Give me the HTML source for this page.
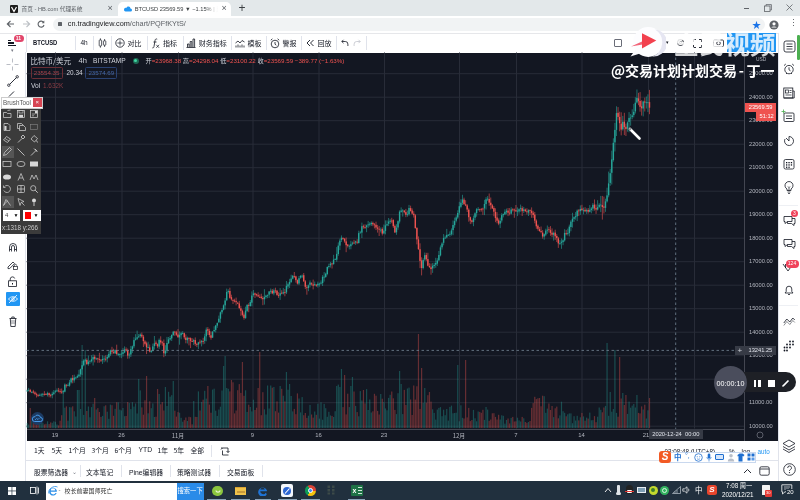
<!DOCTYPE html>
<html><head><meta charset="utf-8">
<style>
*{margin:0;padding:0;box-sizing:border-box}
html,body{width:800px;height:500px;overflow:hidden;background:#fff}
body{position:relative;font-family:"Liberation Sans","Noto Sans CJK SC",sans-serif;color:#131722}
.a{position:absolute;white-space:nowrap}
.cjk{font-family:"Noto Sans CJK SC","Liberation Sans",sans-serif}
</style></head><body>
<!-- tab strip -->
<div class="a" style="left:0;top:0;width:800px;height:16px;background:#e3e8ea"></div>
<svg class="a" style="left:9.5px;top:4.5px" width="8" height="8" viewBox="0 0 8 8"><rect width="8" height="8" rx="1" fill="#1d1d1d"/><path d="M1.5 2l2.5 4.5L6.5 2" fill="none" stroke="#fff" stroke-width="1.2"/></svg>
<div class="a" style="left:21.5px;top:4px;font-size:5.7px;color:#5f6368">首页 - HB.com 代理系统</div>
<div class="a" style="left:107.5px;top:3px;font-size:9px;color:#5f6368">×</div>
<div class="a" style="left:118px;top:2px;width:113px;height:15px;background:#fff;border-radius:5px 5px 0 0"></div>
<svg class="a" style="left:123.5px;top:4.5px" width="8" height="7" viewBox="0 0 8 7"><path d="M1.5 6.5h5a1.5 1.5 0 0 0 0-3 2.2 2.2 0 0 0-4.2-0.6A1.8 1.8 0 0 0 1.5 6.5z" fill="#2196f3"/></svg>
<div class="a" style="left:134.7px;top:4px;width:83px;overflow:hidden;font-size:5.7px;color:#3c4043;-webkit-mask-image:linear-gradient(90deg,#000 85%,transparent)">BTCUSD 23569.59 ▼ −1.15% | 比特币/美元</div>
<div class="a" style="left:221.5px;top:3px;font-size:9px;color:#5f6368">×</div>
<div class="a" style="left:238.5px;top:1px;font-size:12px;color:#3c4043">+</div>
<div class="a" style="left:743.5px;top:7.5px;width:5px;height:0.8px;background:#5f6368"></div>
<svg class="a" style="left:763.5px;top:3.5px" width="8" height="8" viewBox="0 0 8 8"><rect x="0.5" y="2" width="5.5" height="5.5" fill="none" stroke="#5f6368" stroke-width="0.8"/><path d="M2 2V0.6h5.4V6H6" fill="none" stroke="#5f6368" stroke-width="0.8"/></svg>
<svg class="a" style="left:785.5px;top:3.5px" width="7" height="7" viewBox="0 0 7 7"><path d="M0.5 0.5l6 6M6.5 0.5l-6 6" stroke="#5f6368" stroke-width="0.8"/></svg>
<!-- address bar -->
<div class="a" style="left:0;top:16px;width:800px;height:17px;background:#fff"></div>
<svg class="a" style="left:6px;top:20px" width="9" height="8" viewBox="0 0 9 8"><path d="M8 4H1.5M4.5 1L1.3 4l3.2 3" fill="none" stroke="#5f6368" stroke-width="1.1"/></svg>
<svg class="a" style="left:21.5px;top:20px" width="9" height="8" viewBox="0 0 9 8"><path d="M1 4h6.5M4.5 1l3.2 3-3.2 3" fill="none" stroke="#bdc1c6" stroke-width="1.1"/></svg>
<svg class="a" style="left:37px;top:20px" width="8" height="8" viewBox="0 0 8 8"><path d="M6.6 2.4A3 3 0 1 0 7 5" fill="none" stroke="#5f6368" stroke-width="1.1"/><path d="M7.3 0.6v2.6H4.7z" fill="#5f6368"/></svg>
<div class="a" style="left:52.5px;top:17.5px;width:712px;height:13.5px;background:#f1f3f4;border-radius:7px"></div>
<div class="a" style="left:58px;top:21.5px;width:4px;height:4.5px;background:#5f6368;border-radius:0.5px"></div>
<div class="a" style="left:67.8px;top:20px;font-size:7.3px;line-height:8.5px;color:#202124">cn.tradingview.com<span style="color:#5f6368">/chart/PQFfKYtS/</span></div>
<div class="a" style="left:752px;top:18px;font-size:9px;color:#1a73e8">★</div>
<svg class="a" style="left:769px;top:19.5px" width="10" height="10" viewBox="0 0 10 10"><circle cx="5" cy="5" r="4.6" fill="#5f6368"/><circle cx="5" cy="3.8" r="1.6" fill="#fff"/><path d="M2.2 7.6a3.4 2.6 0 0 1 5.6 0" fill="#fff"/></svg>
<div class="a" style="left:789px;top:18px;font-size:9px;color:#5f6368">⋮</div>

<!-- TV toolbar -->
<div class="a" style="left:0;top:33px;width:778px;height:19.5px;background:#fff"></div>
<div class="a" style="left:0;top:33px;width:778px;height:1px;background:#e6e7ea"></div>
<div class="a" style="left:8.3px;top:39.5px;width:3.2px;height:1.2px;background:#131722"></div>
<div class="a" style="left:8.3px;top:42.4px;width:6.2px;height:1.2px;background:#131722"></div>
<div class="a" style="left:8.3px;top:45.2px;width:8px;height:1.2px;background:#131722"></div>
<div class="a" style="left:10.5px;top:46.5px;font-size:5px;color:#787b86">▾</div>
<div class="a" style="left:13.5px;top:35px;width:10px;height:6.5px;border-radius:3.5px;background:#e2456a;color:#fff;font-size:5px;line-height:6.5px;text-align:center;font-weight:bold">11</div>
<div class="a" style="left:25.5px;top:34px;width:1px;height:18px;background:#e0e3eb"></div>
<div class="a" style="left:32.5px;top:37.5px;font-size:7.3px;line-height:9px;font-weight:bold;color:#131722;transform:scaleX(0.8);transform-origin:0 0">BTCUSD</div>
<div class="a" style="left:75px;top:36px;width:1px;height:14px;background:#e0e3eb"></div>
<div class="a" style="left:80.5px;top:39px;font-size:6.5px;color:#131722">4h</div>
<div class="a" style="left:93px;top:36px;width:1px;height:14px;background:#e0e3eb"></div>
<svg class="a" style="left:98px;top:38px" width="9" height="10" viewBox="0 0 9 10"><rect x="1.2" y="2" width="2.4" height="6" rx="0.6" fill="none" stroke="#131722" stroke-width="0.7"/><path d="M2.4 0.3V2M2.4 8v1.7" stroke="#131722" stroke-width="0.7"/><rect x="5.4" y="2.8" width="2.4" height="4.4" rx="0.6" fill="none" stroke="#131722" stroke-width="0.7"/><path d="M6.6 1v1.8M6.6 7.2V9" stroke="#131722" stroke-width="0.7"/></svg>
<div class="a" style="left:111px;top:36px;width:1px;height:14px;background:#e0e3eb"></div>
<svg class="a" style="left:115px;top:38px" width="10" height="10" viewBox="0 0 10 10"><circle cx="5" cy="5" r="4.2" fill="none" stroke="#131722" stroke-width="0.8"/><path d="M5 2.4v5.2M2.4 5h5.2" stroke="#131722" stroke-width="0.7"/></svg>
<div class="a cjk" style="left:127.5px;top:38px;font-size:7px;color:#131722">对比</div>
<div class="a" style="left:147px;top:36px;width:1px;height:14px;background:#e0e3eb"></div>
<svg class="a" style="left:151.5px;top:37.5px" width="8" height="11" viewBox="0 0 8 11"><path d="M5.2 1.2C4 0.6 3.2 1.2 3 2.5L2 8.5C1.8 9.8 1 10.2 0.3 9.8M1.5 4h3" fill="none" stroke="#131722" stroke-width="0.8"/><path d="M4.3 6.8l2.8 3M7.1 6.8l-2.8 3" stroke="#131722" stroke-width="0.7"/></svg>
<div class="a cjk" style="left:163px;top:38px;font-size:7px;color:#131722">指标</div>
<div class="a" style="left:182.5px;top:36px;width:1px;height:14px;background:#e0e3eb"></div>
<svg class="a" style="left:186px;top:38px" width="10" height="10" viewBox="0 0 10 10"><path d="M0.5 9.5h9M1.5 9V6h1.6v3M4.2 9V3.5h1.6V9M7 9V1h1.6v8" fill="none" stroke="#131722" stroke-width="0.8"/></svg>
<div class="a cjk" style="left:198.7px;top:38px;font-size:7px;color:#131722">财务指标</div>
<div class="a" style="left:230.6px;top:36px;width:1px;height:14px;background:#e0e3eb"></div>
<svg class="a" style="left:235px;top:38px" width="10" height="10" viewBox="0 0 10 10"><path d="M0.5 5l2.5-2 2 2 2-2.5 2.5 1.5" fill="none" stroke="#131722" stroke-width="0.8"/><path d="M1 9.5v-2M3 9.5v-3M5 9.5v-2M7 9.5v-3M9 9.5v-2" stroke="#131722" stroke-width="0.8"/></svg>
<div class="a cjk" style="left:247.5px;top:38px;font-size:7px;color:#131722">模板</div>
<div class="a" style="left:266px;top:36px;width:1px;height:14px;background:#e0e3eb"></div>
<svg class="a" style="left:270px;top:37.5px" width="10" height="11" viewBox="0 0 10 11"><circle cx="5" cy="6" r="3.8" fill="none" stroke="#131722" stroke-width="0.8"/><path d="M5 4v2.2l1.3 1M0.8 2.2l1.6-1.4M9.2 2.2l-1.6-1.4" fill="none" stroke="#131722" stroke-width="0.8"/></svg>
<div class="a cjk" style="left:282.5px;top:38px;font-size:7px;color:#131722">警报</div>
<div class="a" style="left:300.6px;top:36px;width:1px;height:14px;background:#e0e3eb"></div>
<svg class="a" style="left:305.5px;top:39px" width="8" height="8" viewBox="0 0 8 8"><path d="M4 1L1 4l3 3M7.5 1L4.5 4l3 3" fill="none" stroke="#131722" stroke-width="0.9"/></svg>
<div class="a cjk" style="left:317.5px;top:38px;font-size:7px;color:#131722">回放</div>
<div class="a" style="left:335.6px;top:36px;width:1px;height:14px;background:#e0e3eb"></div>
<svg class="a" style="left:341px;top:39px" width="8" height="8" viewBox="0 0 8 8"><path d="M2.5 0.8L0.8 2.5l1.7 1.7M0.8 2.5h3.5a2.6 2.6 0 0 1 2.6 2.6V7" fill="none" stroke="#131722" stroke-width="0.8"/></svg>
<svg class="a" style="left:353px;top:39px" width="8" height="8" viewBox="0 0 8 8"><path d="M5.5 0.8l1.7 1.7-1.7 1.7M7.2 2.5H3.7a2.6 2.6 0 0 0-2.6 2.6V7" fill="none" stroke="#c1c4cd" stroke-width="0.8"/></svg>
<div class="a" style="left:366px;top:36px;width:1px;height:14px;background:#e0e3eb"></div>
<div class="a" style="left:613.8px;top:38.8px;width:8.7px;height:8.7px;border:0.8px solid #6a6d78;border-radius:1px"></div>
<div class="a" style="left:665.5px;top:38.5px;font-size:5px;color:#131722">▾</div>
<svg class="a" style="left:675.5px;top:38px" width="9" height="9" viewBox="0 0 9 9"><circle cx="4.5" cy="4.5" r="3" fill="none" stroke="#131722" stroke-width="0.9"/><circle cx="4.5" cy="4.5" r="1.1" fill="none" stroke="#131722" stroke-width="0.8"/></svg>
<svg class="a" style="left:693px;top:38.5px" width="9" height="9" viewBox="0 0 9 9"><path d="M0.5 3V0.5H3M6 0.5h2.5V3M8.5 6v2.5H6M3 8.5H0.5V6" fill="none" stroke="#131722" stroke-width="0.9"/></svg>
<svg class="a" style="left:713px;top:38px" width="11" height="9" viewBox="0 0 11 9"><rect x="0.5" y="2" width="10" height="6.5" rx="1" fill="none" stroke="#131722" stroke-width="0.8"/><circle cx="5.5" cy="5.2" r="1.8" fill="none" stroke="#131722" stroke-width="0.8"/></svg>
<div class="a" style="left:727px;top:33.3px;width:49px;height:19.2px;background:#2196f3"></div>

<!-- left toolbar -->
<div class="a" style="left:0;top:52px;width:26px;height:429px;background:#fff;border-right:1px solid #e0e3eb"></div>
<!-- chart -->
<div class="a" style="left:26.5px;top:52.5px;width:751.5px;height:388.5px;background:#131722"></div>
<svg class="a" style="left:0;top:0" width="800" height="500" viewBox="0 0 800 500">
<line x1="26.5" y1="426.2" x2="744.5" y2="426.2" stroke="#282c38" stroke-width="1"/>
<line x1="26.5" y1="402.7" x2="744.5" y2="402.7" stroke="#282c38" stroke-width="1"/>
<line x1="26.5" y1="379.2" x2="744.5" y2="379.2" stroke="#282c38" stroke-width="1"/>
<line x1="26.5" y1="355.7" x2="744.5" y2="355.7" stroke="#282c38" stroke-width="1"/>
<line x1="26.5" y1="332.2" x2="744.5" y2="332.2" stroke="#282c38" stroke-width="1"/>
<line x1="26.5" y1="308.7" x2="744.5" y2="308.7" stroke="#282c38" stroke-width="1"/>
<line x1="26.5" y1="285.2" x2="744.5" y2="285.2" stroke="#282c38" stroke-width="1"/>
<line x1="26.5" y1="261.7" x2="744.5" y2="261.7" stroke="#282c38" stroke-width="1"/>
<line x1="26.5" y1="238.2" x2="744.5" y2="238.2" stroke="#282c38" stroke-width="1"/>
<line x1="26.5" y1="214.7" x2="744.5" y2="214.7" stroke="#282c38" stroke-width="1"/>
<line x1="26.5" y1="191.2" x2="744.5" y2="191.2" stroke="#282c38" stroke-width="1"/>
<line x1="26.5" y1="167.7" x2="744.5" y2="167.7" stroke="#282c38" stroke-width="1"/>
<line x1="26.5" y1="144.2" x2="744.5" y2="144.2" stroke="#282c38" stroke-width="1"/>
<line x1="26.5" y1="120.7" x2="744.5" y2="120.7" stroke="#282c38" stroke-width="1"/>
<line x1="26.5" y1="97.2" x2="744.5" y2="97.2" stroke="#282c38" stroke-width="1"/>
<line x1="26.5" y1="73.7" x2="744.5" y2="73.7" stroke="#282c38" stroke-width="1"/>
<line x1="55.5" y1="52.5" x2="55.5" y2="428.5" stroke="#282c38" stroke-width="1"/>
<line x1="122.0" y1="52.5" x2="122.0" y2="428.5" stroke="#282c38" stroke-width="1"/>
<line x1="178.5" y1="52.5" x2="178.5" y2="428.5" stroke="#282c38" stroke-width="1"/>
<line x1="253.0" y1="52.5" x2="253.0" y2="428.5" stroke="#282c38" stroke-width="1"/>
<line x1="319.0" y1="52.5" x2="319.0" y2="428.5" stroke="#282c38" stroke-width="1"/>
<line x1="384.5" y1="52.5" x2="384.5" y2="428.5" stroke="#282c38" stroke-width="1"/>
<line x1="459.5" y1="52.5" x2="459.5" y2="428.5" stroke="#282c38" stroke-width="1"/>
<line x1="516.5" y1="52.5" x2="516.5" y2="428.5" stroke="#282c38" stroke-width="1"/>
<line x1="582.0" y1="52.5" x2="582.0" y2="428.5" stroke="#282c38" stroke-width="1"/>
<line x1="648.5" y1="52.5" x2="648.5" y2="428.5" stroke="#282c38" stroke-width="1"/>
<line x1="694.5" y1="52.5" x2="694.5" y2="428.5" stroke="#282c38" stroke-width="1"/>
<rect x="26.51" y="423.0" width="1.2" height="5.0" fill="rgba(38,166,154,0.38)"/>
<rect x="28.08" y="424.5" width="1.2" height="3.5" fill="rgba(38,166,154,0.38)"/>
<rect x="29.65" y="408.0" width="1.2" height="20.0" fill="rgba(239,83,80,0.38)"/>
<rect x="31.22" y="420.9" width="1.2" height="7.1" fill="rgba(38,166,154,0.38)"/>
<rect x="32.79" y="422.3" width="1.2" height="5.7" fill="rgba(239,83,80,0.38)"/>
<rect x="34.37" y="421.7" width="1.2" height="6.3" fill="rgba(239,83,80,0.38)"/>
<rect x="35.94" y="424.3" width="1.2" height="3.7" fill="rgba(239,83,80,0.38)"/>
<rect x="37.51" y="422.8" width="1.2" height="5.2" fill="rgba(239,83,80,0.38)"/>
<rect x="39.08" y="420.9" width="1.2" height="7.1" fill="rgba(38,166,154,0.38)"/>
<rect x="40.65" y="421.6" width="1.2" height="6.4" fill="rgba(38,166,154,0.38)"/>
<rect x="42.22" y="422.8" width="1.2" height="5.2" fill="rgba(38,166,154,0.38)"/>
<rect x="43.80" y="424.4" width="1.2" height="3.6" fill="rgba(239,83,80,0.38)"/>
<rect x="45.37" y="423.8" width="1.2" height="4.2" fill="rgba(239,83,80,0.38)"/>
<rect x="46.94" y="421.3" width="1.2" height="6.7" fill="rgba(38,166,154,0.38)"/>
<rect x="48.51" y="424.0" width="1.2" height="4.0" fill="rgba(239,83,80,0.38)"/>
<rect x="50.08" y="422.4" width="1.2" height="5.6" fill="rgba(239,83,80,0.38)"/>
<rect x="51.65" y="422.8" width="1.2" height="5.2" fill="rgba(38,166,154,0.38)"/>
<rect x="53.23" y="421.3" width="1.2" height="6.7" fill="rgba(38,166,154,0.38)"/>
<rect x="54.80" y="421.8" width="1.2" height="6.2" fill="rgba(38,166,154,0.38)"/>
<rect x="56.37" y="424.5" width="1.2" height="3.5" fill="rgba(38,166,154,0.38)"/>
<rect x="57.94" y="425.4" width="1.2" height="2.6" fill="rgba(239,83,80,0.38)"/>
<rect x="59.51" y="420.7" width="1.2" height="7.3" fill="rgba(239,83,80,0.38)"/>
<rect x="61.08" y="415.2" width="1.2" height="12.8" fill="rgba(239,83,80,0.38)"/>
<rect x="62.66" y="390.0" width="1.2" height="38.0" fill="rgba(38,166,154,0.38)"/>
<rect x="64.23" y="407.7" width="1.2" height="20.3" fill="rgba(38,166,154,0.38)"/>
<rect x="65.80" y="406.4" width="1.2" height="21.6" fill="rgba(239,83,80,0.38)"/>
<rect x="67.37" y="420.7" width="1.2" height="7.3" fill="rgba(38,166,154,0.38)"/>
<rect x="68.94" y="407.1" width="1.2" height="20.9" fill="rgba(38,166,154,0.38)"/>
<rect x="70.51" y="407.4" width="1.2" height="20.6" fill="rgba(38,166,154,0.38)"/>
<rect x="72.09" y="406.3" width="1.2" height="21.7" fill="rgba(239,83,80,0.38)"/>
<rect x="73.66" y="411.3" width="1.2" height="16.7" fill="rgba(38,166,154,0.38)"/>
<rect x="75.23" y="416.5" width="1.2" height="11.5" fill="rgba(38,166,154,0.38)"/>
<rect x="76.80" y="390.0" width="1.2" height="38.0" fill="rgba(38,166,154,0.38)"/>
<rect x="78.37" y="390.0" width="1.2" height="38.0" fill="rgba(38,166,154,0.38)"/>
<rect x="79.94" y="409.0" width="1.2" height="19.0" fill="rgba(38,166,154,0.38)"/>
<rect x="81.52" y="345.0" width="1.2" height="83.0" fill="rgba(38,166,154,0.38)"/>
<rect x="83.09" y="414.9" width="1.2" height="13.1" fill="rgba(38,166,154,0.38)"/>
<rect x="84.66" y="350.0" width="1.2" height="78.0" fill="rgba(38,166,154,0.38)"/>
<rect x="86.23" y="411.0" width="1.2" height="17.0" fill="rgba(239,83,80,0.38)"/>
<rect x="87.80" y="406.5" width="1.2" height="21.5" fill="rgba(38,166,154,0.38)"/>
<rect x="89.37" y="417.3" width="1.2" height="10.7" fill="rgba(38,166,154,0.38)"/>
<rect x="90.95" y="407.1" width="1.2" height="20.9" fill="rgba(38,166,154,0.38)"/>
<rect x="92.52" y="403.7" width="1.2" height="24.3" fill="rgba(38,166,154,0.38)"/>
<rect x="94.09" y="398.0" width="1.2" height="30.0" fill="rgba(239,83,80,0.38)"/>
<rect x="95.66" y="409.5" width="1.2" height="18.5" fill="rgba(38,166,154,0.38)"/>
<rect x="97.23" y="408.1" width="1.2" height="19.9" fill="rgba(239,83,80,0.38)"/>
<rect x="98.80" y="412.0" width="1.2" height="16.0" fill="rgba(239,83,80,0.38)"/>
<rect x="100.38" y="416.9" width="1.2" height="11.1" fill="rgba(239,83,80,0.38)"/>
<rect x="101.95" y="415.9" width="1.2" height="12.1" fill="rgba(38,166,154,0.38)"/>
<rect x="103.52" y="406.3" width="1.2" height="21.7" fill="rgba(38,166,154,0.38)"/>
<rect x="105.09" y="405.3" width="1.2" height="22.7" fill="rgba(239,83,80,0.38)"/>
<rect x="106.66" y="411.7" width="1.2" height="16.3" fill="rgba(38,166,154,0.38)"/>
<rect x="108.24" y="418.8" width="1.2" height="9.2" fill="rgba(38,166,154,0.38)"/>
<rect x="109.81" y="404.6" width="1.2" height="23.4" fill="rgba(38,166,154,0.38)"/>
<rect x="111.38" y="405.2" width="1.2" height="22.8" fill="rgba(239,83,80,0.38)"/>
<rect x="112.95" y="415.8" width="1.2" height="12.2" fill="rgba(239,83,80,0.38)"/>
<rect x="114.52" y="408.8" width="1.2" height="19.2" fill="rgba(38,166,154,0.38)"/>
<rect x="116.09" y="402.2" width="1.2" height="25.8" fill="rgba(239,83,80,0.38)"/>
<rect x="117.67" y="402.3" width="1.2" height="25.7" fill="rgba(38,166,154,0.38)"/>
<rect x="119.24" y="409.6" width="1.2" height="18.4" fill="rgba(38,166,154,0.38)"/>
<rect x="120.81" y="410.4" width="1.2" height="17.6" fill="rgba(38,166,154,0.38)"/>
<rect x="122.38" y="408.0" width="1.2" height="20.0" fill="rgba(38,166,154,0.38)"/>
<rect x="123.95" y="416.2" width="1.2" height="11.8" fill="rgba(38,166,154,0.38)"/>
<rect x="125.52" y="416.0" width="1.2" height="12.0" fill="rgba(239,83,80,0.38)"/>
<rect x="127.10" y="402.0" width="1.2" height="26.0" fill="rgba(239,83,80,0.38)"/>
<rect x="128.67" y="403.1" width="1.2" height="24.9" fill="rgba(38,166,154,0.38)"/>
<rect x="130.24" y="409.1" width="1.2" height="18.9" fill="rgba(38,166,154,0.38)"/>
<rect x="131.81" y="402.2" width="1.2" height="25.8" fill="rgba(38,166,154,0.38)"/>
<rect x="133.38" y="406.6" width="1.2" height="21.4" fill="rgba(38,166,154,0.38)"/>
<rect x="134.95" y="403.5" width="1.2" height="24.5" fill="rgba(38,166,154,0.38)"/>
<rect x="136.53" y="413.5" width="1.2" height="14.5" fill="rgba(38,166,154,0.38)"/>
<rect x="138.10" y="379.0" width="1.2" height="49.0" fill="rgba(38,166,154,0.38)"/>
<rect x="139.67" y="390.4" width="1.2" height="37.6" fill="rgba(38,166,154,0.38)"/>
<rect x="141.24" y="407.4" width="1.2" height="20.6" fill="rgba(239,83,80,0.38)"/>
<rect x="142.81" y="414.7" width="1.2" height="13.3" fill="rgba(239,83,80,0.38)"/>
<rect x="144.38" y="400.3" width="1.2" height="27.7" fill="rgba(239,83,80,0.38)"/>
<rect x="145.96" y="376.0" width="1.2" height="52.0" fill="rgba(239,83,80,0.38)"/>
<rect x="147.53" y="413.3" width="1.2" height="14.7" fill="rgba(38,166,154,0.38)"/>
<rect x="149.10" y="401.3" width="1.2" height="26.7" fill="rgba(239,83,80,0.38)"/>
<rect x="150.67" y="408.2" width="1.2" height="19.8" fill="rgba(38,166,154,0.38)"/>
<rect x="152.24" y="403.4" width="1.2" height="24.6" fill="rgba(38,166,154,0.38)"/>
<rect x="153.81" y="417.0" width="1.2" height="11.0" fill="rgba(38,166,154,0.38)"/>
<rect x="155.39" y="416.7" width="1.2" height="11.3" fill="rgba(239,83,80,0.38)"/>
<rect x="156.96" y="389.0" width="1.2" height="39.0" fill="rgba(239,83,80,0.38)"/>
<rect x="158.53" y="394.0" width="1.2" height="34.0" fill="rgba(38,166,154,0.38)"/>
<rect x="160.10" y="404.3" width="1.2" height="23.7" fill="rgba(239,83,80,0.38)"/>
<rect x="161.67" y="402.1" width="1.2" height="25.9" fill="rgba(239,83,80,0.38)"/>
<rect x="163.24" y="410.5" width="1.2" height="17.5" fill="rgba(239,83,80,0.38)"/>
<rect x="164.82" y="387.0" width="1.2" height="41.0" fill="rgba(38,166,154,0.38)"/>
<rect x="166.39" y="406.0" width="1.2" height="22.0" fill="rgba(38,166,154,0.38)"/>
<rect x="167.96" y="391.8" width="1.2" height="36.2" fill="rgba(38,166,154,0.38)"/>
<rect x="169.53" y="396.7" width="1.2" height="31.3" fill="rgba(38,166,154,0.38)"/>
<rect x="171.10" y="395.2" width="1.2" height="32.8" fill="rgba(38,166,154,0.38)"/>
<rect x="172.67" y="381.0" width="1.2" height="47.0" fill="rgba(38,166,154,0.38)"/>
<rect x="174.25" y="410.7" width="1.2" height="17.3" fill="rgba(239,83,80,0.38)"/>
<rect x="175.82" y="416.6" width="1.2" height="11.4" fill="rgba(239,83,80,0.38)"/>
<rect x="177.39" y="412.1" width="1.2" height="15.9" fill="rgba(239,83,80,0.38)"/>
<rect x="178.96" y="412.7" width="1.2" height="15.3" fill="rgba(38,166,154,0.38)"/>
<rect x="180.53" y="417.8" width="1.2" height="10.2" fill="rgba(38,166,154,0.38)"/>
<rect x="182.11" y="421.7" width="1.2" height="6.3" fill="rgba(38,166,154,0.38)"/>
<rect x="183.68" y="420.1" width="1.2" height="7.9" fill="rgba(239,83,80,0.38)"/>
<rect x="185.25" y="417.5" width="1.2" height="10.5" fill="rgba(239,83,80,0.38)"/>
<rect x="186.82" y="421.0" width="1.2" height="7.0" fill="rgba(38,166,154,0.38)"/>
<rect x="188.39" y="416.8" width="1.2" height="11.2" fill="rgba(239,83,80,0.38)"/>
<rect x="189.96" y="417.2" width="1.2" height="10.8" fill="rgba(239,83,80,0.38)"/>
<rect x="191.54" y="424.3" width="1.2" height="3.7" fill="rgba(239,83,80,0.38)"/>
<rect x="193.11" y="401.0" width="1.2" height="27.0" fill="rgba(38,166,154,0.38)"/>
<rect x="194.68" y="416.8" width="1.2" height="11.2" fill="rgba(239,83,80,0.38)"/>
<rect x="196.25" y="417.0" width="1.2" height="11.0" fill="rgba(239,83,80,0.38)"/>
<rect x="197.82" y="391.4" width="1.2" height="36.6" fill="rgba(38,166,154,0.38)"/>
<rect x="199.39" y="410.5" width="1.2" height="17.5" fill="rgba(239,83,80,0.38)"/>
<rect x="200.97" y="401.9" width="1.2" height="26.1" fill="rgba(38,166,154,0.38)"/>
<rect x="202.54" y="399.7" width="1.2" height="28.3" fill="rgba(239,83,80,0.38)"/>
<rect x="204.11" y="390.8" width="1.2" height="37.2" fill="rgba(38,166,154,0.38)"/>
<rect x="205.68" y="398.6" width="1.2" height="29.4" fill="rgba(38,166,154,0.38)"/>
<rect x="207.25" y="386.0" width="1.2" height="42.0" fill="rgba(239,83,80,0.38)"/>
<rect x="208.82" y="404.6" width="1.2" height="23.4" fill="rgba(239,83,80,0.38)"/>
<rect x="210.40" y="412.7" width="1.2" height="15.3" fill="rgba(239,83,80,0.38)"/>
<rect x="211.97" y="389.6" width="1.2" height="38.4" fill="rgba(38,166,154,0.38)"/>
<rect x="213.54" y="388.7" width="1.2" height="39.3" fill="rgba(38,166,154,0.38)"/>
<rect x="215.11" y="410.7" width="1.2" height="17.3" fill="rgba(38,166,154,0.38)"/>
<rect x="216.68" y="415.9" width="1.2" height="12.1" fill="rgba(38,166,154,0.38)"/>
<rect x="218.25" y="409.5" width="1.2" height="18.5" fill="rgba(38,166,154,0.38)"/>
<rect x="219.83" y="406.7" width="1.2" height="21.3" fill="rgba(38,166,154,0.38)"/>
<rect x="221.40" y="390.5" width="1.2" height="37.5" fill="rgba(38,166,154,0.38)"/>
<rect x="222.97" y="366.0" width="1.2" height="62.0" fill="rgba(38,166,154,0.38)"/>
<rect x="224.54" y="356.0" width="1.2" height="72.0" fill="rgba(38,166,154,0.38)"/>
<rect x="226.11" y="388.0" width="1.2" height="40.0" fill="rgba(38,166,154,0.38)"/>
<rect x="227.68" y="388.8" width="1.2" height="39.2" fill="rgba(38,166,154,0.38)"/>
<rect x="229.26" y="391.4" width="1.2" height="36.6" fill="rgba(239,83,80,0.38)"/>
<rect x="230.83" y="380.0" width="1.2" height="48.0" fill="rgba(239,83,80,0.38)"/>
<rect x="232.40" y="382.3" width="1.2" height="45.7" fill="rgba(239,83,80,0.38)"/>
<rect x="233.97" y="413.4" width="1.2" height="14.6" fill="rgba(239,83,80,0.38)"/>
<rect x="235.54" y="410.5" width="1.2" height="17.5" fill="rgba(239,83,80,0.38)"/>
<rect x="237.11" y="390.2" width="1.2" height="37.8" fill="rgba(239,83,80,0.38)"/>
<rect x="238.69" y="384.1" width="1.2" height="43.9" fill="rgba(239,83,80,0.38)"/>
<rect x="240.26" y="392.9" width="1.2" height="35.1" fill="rgba(239,83,80,0.38)"/>
<rect x="241.83" y="362.0" width="1.2" height="66.0" fill="rgba(239,83,80,0.38)"/>
<rect x="243.40" y="395.8" width="1.2" height="32.2" fill="rgba(239,83,80,0.38)"/>
<rect x="244.97" y="390.3" width="1.2" height="37.7" fill="rgba(38,166,154,0.38)"/>
<rect x="246.54" y="411.9" width="1.2" height="16.1" fill="rgba(38,166,154,0.38)"/>
<rect x="248.12" y="404.7" width="1.2" height="23.3" fill="rgba(239,83,80,0.38)"/>
<rect x="249.69" y="407.0" width="1.2" height="21.0" fill="rgba(38,166,154,0.38)"/>
<rect x="251.26" y="411.4" width="1.2" height="16.6" fill="rgba(38,166,154,0.38)"/>
<rect x="252.83" y="399.7" width="1.2" height="28.3" fill="rgba(38,166,154,0.38)"/>
<rect x="254.40" y="410.0" width="1.2" height="18.0" fill="rgba(239,83,80,0.38)"/>
<rect x="255.97" y="407.7" width="1.2" height="20.3" fill="rgba(239,83,80,0.38)"/>
<rect x="257.55" y="388.0" width="1.2" height="40.0" fill="rgba(239,83,80,0.38)"/>
<rect x="259.12" y="352.0" width="1.2" height="76.0" fill="rgba(239,83,80,0.38)"/>
<rect x="260.69" y="415.2" width="1.2" height="12.8" fill="rgba(239,83,80,0.38)"/>
<rect x="262.26" y="392.2" width="1.2" height="35.8" fill="rgba(239,83,80,0.38)"/>
<rect x="263.83" y="409.3" width="1.2" height="18.7" fill="rgba(38,166,154,0.38)"/>
<rect x="265.41" y="414.5" width="1.2" height="13.5" fill="rgba(38,166,154,0.38)"/>
<rect x="266.98" y="385.5" width="1.2" height="42.5" fill="rgba(38,166,154,0.38)"/>
<rect x="268.55" y="408.5" width="1.2" height="19.5" fill="rgba(38,166,154,0.38)"/>
<rect x="270.12" y="385.5" width="1.2" height="42.5" fill="rgba(38,166,154,0.38)"/>
<rect x="271.69" y="387.7" width="1.2" height="40.3" fill="rgba(239,83,80,0.38)"/>
<rect x="273.26" y="387.0" width="1.2" height="41.0" fill="rgba(38,166,154,0.38)"/>
<rect x="274.84" y="411.2" width="1.2" height="16.8" fill="rgba(239,83,80,0.38)"/>
<rect x="276.41" y="401.4" width="1.2" height="26.6" fill="rgba(239,83,80,0.38)"/>
<rect x="277.98" y="412.6" width="1.2" height="15.4" fill="rgba(239,83,80,0.38)"/>
<rect x="279.55" y="386.0" width="1.2" height="42.0" fill="rgba(38,166,154,0.38)"/>
<rect x="281.12" y="388.8" width="1.2" height="39.2" fill="rgba(239,83,80,0.38)"/>
<rect x="282.69" y="395.7" width="1.2" height="32.3" fill="rgba(38,166,154,0.38)"/>
<rect x="284.27" y="401.4" width="1.2" height="26.6" fill="rgba(239,83,80,0.38)"/>
<rect x="285.84" y="372.0" width="1.2" height="56.0" fill="rgba(38,166,154,0.38)"/>
<rect x="287.41" y="389.7" width="1.2" height="38.3" fill="rgba(38,166,154,0.38)"/>
<rect x="288.98" y="384.0" width="1.2" height="44.0" fill="rgba(38,166,154,0.38)"/>
<rect x="290.55" y="396.0" width="1.2" height="32.0" fill="rgba(38,166,154,0.38)"/>
<rect x="292.12" y="411.4" width="1.2" height="16.6" fill="rgba(38,166,154,0.38)"/>
<rect x="293.70" y="408.9" width="1.2" height="19.1" fill="rgba(239,83,80,0.38)"/>
<rect x="295.27" y="414.2" width="1.2" height="13.8" fill="rgba(239,83,80,0.38)"/>
<rect x="296.84" y="393.4" width="1.2" height="34.6" fill="rgba(239,83,80,0.38)"/>
<rect x="298.41" y="398.5" width="1.2" height="29.5" fill="rgba(38,166,154,0.38)"/>
<rect x="299.98" y="412.4" width="1.2" height="15.6" fill="rgba(38,166,154,0.38)"/>
<rect x="301.55" y="397.1" width="1.2" height="30.9" fill="rgba(38,166,154,0.38)"/>
<rect x="303.13" y="415.2" width="1.2" height="12.8" fill="rgba(239,83,80,0.38)"/>
<rect x="304.70" y="413.0" width="1.2" height="15.0" fill="rgba(239,83,80,0.38)"/>
<rect x="306.27" y="417.9" width="1.2" height="10.1" fill="rgba(239,83,80,0.38)"/>
<rect x="307.84" y="415.7" width="1.2" height="12.3" fill="rgba(38,166,154,0.38)"/>
<rect x="309.41" y="404.9" width="1.2" height="23.1" fill="rgba(38,166,154,0.38)"/>
<rect x="310.98" y="414.5" width="1.2" height="13.5" fill="rgba(239,83,80,0.38)"/>
<rect x="312.56" y="417.6" width="1.2" height="10.4" fill="rgba(239,83,80,0.38)"/>
<rect x="314.13" y="411.5" width="1.2" height="16.5" fill="rgba(38,166,154,0.38)"/>
<rect x="315.70" y="414.8" width="1.2" height="13.2" fill="rgba(239,83,80,0.38)"/>
<rect x="317.27" y="403.7" width="1.2" height="24.3" fill="rgba(38,166,154,0.38)"/>
<rect x="318.84" y="418.6" width="1.2" height="9.4" fill="rgba(38,166,154,0.38)"/>
<rect x="320.41" y="402.3" width="1.2" height="25.7" fill="rgba(38,166,154,0.38)"/>
<rect x="321.99" y="419.7" width="1.2" height="8.3" fill="rgba(38,166,154,0.38)"/>
<rect x="323.56" y="403.9" width="1.2" height="24.1" fill="rgba(38,166,154,0.38)"/>
<rect x="325.13" y="408.2" width="1.2" height="19.8" fill="rgba(38,166,154,0.38)"/>
<rect x="326.70" y="416.8" width="1.2" height="11.2" fill="rgba(38,166,154,0.38)"/>
<rect x="328.27" y="411.8" width="1.2" height="16.2" fill="rgba(38,166,154,0.38)"/>
<rect x="329.84" y="415.4" width="1.2" height="12.6" fill="rgba(38,166,154,0.38)"/>
<rect x="331.42" y="415.9" width="1.2" height="12.1" fill="rgba(239,83,80,0.38)"/>
<rect x="332.99" y="417.0" width="1.2" height="11.0" fill="rgba(38,166,154,0.38)"/>
<rect x="334.56" y="411.2" width="1.2" height="16.8" fill="rgba(38,166,154,0.38)"/>
<rect x="336.13" y="386.0" width="1.2" height="42.0" fill="rgba(38,166,154,0.38)"/>
<rect x="337.70" y="384.6" width="1.2" height="43.4" fill="rgba(38,166,154,0.38)"/>
<rect x="339.28" y="387.0" width="1.2" height="41.0" fill="rgba(38,166,154,0.38)"/>
<rect x="340.85" y="369.0" width="1.2" height="59.0" fill="rgba(38,166,154,0.38)"/>
<rect x="342.42" y="407.1" width="1.2" height="20.9" fill="rgba(239,83,80,0.38)"/>
<rect x="343.99" y="375.0" width="1.2" height="53.0" fill="rgba(239,83,80,0.38)"/>
<rect x="345.56" y="414.4" width="1.2" height="13.6" fill="rgba(239,83,80,0.38)"/>
<rect x="347.13" y="393.7" width="1.2" height="34.3" fill="rgba(239,83,80,0.38)"/>
<rect x="348.71" y="407.1" width="1.2" height="20.9" fill="rgba(38,166,154,0.38)"/>
<rect x="350.28" y="386.0" width="1.2" height="42.0" fill="rgba(38,166,154,0.38)"/>
<rect x="351.85" y="377.0" width="1.2" height="51.0" fill="rgba(38,166,154,0.38)"/>
<rect x="353.42" y="391.5" width="1.2" height="36.5" fill="rgba(239,83,80,0.38)"/>
<rect x="354.99" y="405.9" width="1.2" height="22.1" fill="rgba(38,166,154,0.38)"/>
<rect x="356.56" y="412.1" width="1.2" height="15.9" fill="rgba(239,83,80,0.38)"/>
<rect x="358.14" y="416.3" width="1.2" height="11.7" fill="rgba(38,166,154,0.38)"/>
<rect x="359.71" y="391.1" width="1.2" height="36.9" fill="rgba(38,166,154,0.38)"/>
<rect x="361.28" y="400.5" width="1.2" height="27.5" fill="rgba(38,166,154,0.38)"/>
<rect x="362.85" y="390.0" width="1.2" height="38.0" fill="rgba(239,83,80,0.38)"/>
<rect x="364.42" y="403.4" width="1.2" height="24.6" fill="rgba(239,83,80,0.38)"/>
<rect x="365.99" y="389.1" width="1.2" height="38.9" fill="rgba(38,166,154,0.38)"/>
<rect x="367.57" y="410.0" width="1.2" height="18.0" fill="rgba(38,166,154,0.38)"/>
<rect x="369.14" y="399.5" width="1.2" height="28.5" fill="rgba(38,166,154,0.38)"/>
<rect x="370.71" y="412.5" width="1.2" height="15.5" fill="rgba(38,166,154,0.38)"/>
<rect x="372.28" y="411.3" width="1.2" height="16.7" fill="rgba(239,83,80,0.38)"/>
<rect x="373.85" y="393.8" width="1.2" height="34.2" fill="rgba(239,83,80,0.38)"/>
<rect x="375.42" y="395.7" width="1.2" height="32.3" fill="rgba(239,83,80,0.38)"/>
<rect x="377.00" y="410.9" width="1.2" height="17.1" fill="rgba(239,83,80,0.38)"/>
<rect x="378.57" y="414.5" width="1.2" height="13.5" fill="rgba(239,83,80,0.38)"/>
<rect x="380.14" y="394.0" width="1.2" height="34.0" fill="rgba(38,166,154,0.38)"/>
<rect x="381.71" y="398.7" width="1.2" height="29.3" fill="rgba(239,83,80,0.38)"/>
<rect x="383.28" y="401.9" width="1.2" height="26.1" fill="rgba(38,166,154,0.38)"/>
<rect x="384.85" y="408.4" width="1.2" height="19.6" fill="rgba(38,166,154,0.38)"/>
<rect x="386.43" y="410.3" width="1.2" height="17.7" fill="rgba(38,166,154,0.38)"/>
<rect x="388.00" y="397.9" width="1.2" height="30.1" fill="rgba(38,166,154,0.38)"/>
<rect x="389.57" y="394.8" width="1.2" height="33.2" fill="rgba(38,166,154,0.38)"/>
<rect x="391.14" y="391.5" width="1.2" height="36.5" fill="rgba(239,83,80,0.38)"/>
<rect x="392.71" y="398.3" width="1.2" height="29.7" fill="rgba(239,83,80,0.38)"/>
<rect x="394.28" y="409.9" width="1.2" height="18.1" fill="rgba(239,83,80,0.38)"/>
<rect x="395.86" y="414.1" width="1.2" height="13.9" fill="rgba(38,166,154,0.38)"/>
<rect x="397.43" y="393.2" width="1.2" height="34.8" fill="rgba(38,166,154,0.38)"/>
<rect x="399.00" y="371.0" width="1.2" height="57.0" fill="rgba(38,166,154,0.38)"/>
<rect x="400.57" y="384.0" width="1.2" height="44.0" fill="rgba(38,166,154,0.38)"/>
<rect x="402.14" y="414.1" width="1.2" height="13.9" fill="rgba(38,166,154,0.38)"/>
<rect x="403.71" y="389.9" width="1.2" height="38.1" fill="rgba(239,83,80,0.38)"/>
<rect x="405.29" y="405.0" width="1.2" height="23.0" fill="rgba(239,83,80,0.38)"/>
<rect x="406.86" y="388.5" width="1.2" height="39.5" fill="rgba(38,166,154,0.38)"/>
<rect x="408.43" y="387.6" width="1.2" height="40.4" fill="rgba(38,166,154,0.38)"/>
<rect x="410.00" y="399.5" width="1.2" height="28.5" fill="rgba(239,83,80,0.38)"/>
<rect x="411.57" y="415.0" width="1.2" height="13.0" fill="rgba(239,83,80,0.38)"/>
<rect x="413.14" y="385.5" width="1.2" height="42.5" fill="rgba(239,83,80,0.38)"/>
<rect x="414.72" y="399.6" width="1.2" height="28.4" fill="rgba(239,83,80,0.38)"/>
<rect x="416.29" y="386.3" width="1.2" height="41.7" fill="rgba(239,83,80,0.38)"/>
<rect x="417.86" y="334.0" width="1.2" height="94.0" fill="rgba(239,83,80,0.38)"/>
<rect x="419.43" y="408.9" width="1.2" height="19.1" fill="rgba(239,83,80,0.38)"/>
<rect x="421.00" y="368.0" width="1.2" height="60.0" fill="rgba(239,83,80,0.38)"/>
<rect x="422.58" y="402.9" width="1.2" height="25.1" fill="rgba(38,166,154,0.38)"/>
<rect x="424.15" y="388.0" width="1.2" height="40.0" fill="rgba(38,166,154,0.38)"/>
<rect x="425.72" y="402.7" width="1.2" height="25.3" fill="rgba(239,83,80,0.38)"/>
<rect x="427.29" y="395.2" width="1.2" height="32.8" fill="rgba(239,83,80,0.38)"/>
<rect x="428.86" y="392.0" width="1.2" height="36.0" fill="rgba(239,83,80,0.38)"/>
<rect x="430.43" y="401.6" width="1.2" height="26.4" fill="rgba(239,83,80,0.38)"/>
<rect x="432.01" y="409.3" width="1.2" height="18.7" fill="rgba(38,166,154,0.38)"/>
<rect x="433.58" y="412.9" width="1.2" height="15.1" fill="rgba(38,166,154,0.38)"/>
<rect x="435.15" y="419.6" width="1.2" height="8.4" fill="rgba(38,166,154,0.38)"/>
<rect x="436.72" y="409.6" width="1.2" height="18.4" fill="rgba(38,166,154,0.38)"/>
<rect x="438.29" y="407.9" width="1.2" height="20.1" fill="rgba(38,166,154,0.38)"/>
<rect x="439.86" y="407.1" width="1.2" height="20.9" fill="rgba(38,166,154,0.38)"/>
<rect x="441.44" y="416.2" width="1.2" height="11.8" fill="rgba(38,166,154,0.38)"/>
<rect x="443.01" y="409.7" width="1.2" height="18.3" fill="rgba(38,166,154,0.38)"/>
<rect x="444.58" y="415.2" width="1.2" height="12.8" fill="rgba(38,166,154,0.38)"/>
<rect x="446.15" y="409.0" width="1.2" height="19.0" fill="rgba(38,166,154,0.38)"/>
<rect x="447.72" y="420.6" width="1.2" height="7.4" fill="rgba(38,166,154,0.38)"/>
<rect x="449.29" y="406.9" width="1.2" height="21.1" fill="rgba(38,166,154,0.38)"/>
<rect x="450.87" y="405.6" width="1.2" height="22.4" fill="rgba(38,166,154,0.38)"/>
<rect x="452.44" y="413.3" width="1.2" height="14.7" fill="rgba(38,166,154,0.38)"/>
<rect x="454.01" y="413.0" width="1.2" height="15.0" fill="rgba(38,166,154,0.38)"/>
<rect x="455.58" y="412.7" width="1.2" height="15.3" fill="rgba(38,166,154,0.38)"/>
<rect x="457.15" y="365.0" width="1.2" height="63.0" fill="rgba(38,166,154,0.38)"/>
<rect x="458.72" y="421.3" width="1.2" height="6.7" fill="rgba(38,166,154,0.38)"/>
<rect x="460.30" y="405.3" width="1.2" height="22.7" fill="rgba(38,166,154,0.38)"/>
<rect x="461.87" y="417.8" width="1.2" height="10.2" fill="rgba(38,166,154,0.38)"/>
<rect x="463.44" y="418.5" width="1.2" height="9.5" fill="rgba(239,83,80,0.38)"/>
<rect x="465.01" y="360.0" width="1.2" height="68.0" fill="rgba(239,83,80,0.38)"/>
<rect x="466.58" y="417.4" width="1.2" height="10.6" fill="rgba(239,83,80,0.38)"/>
<rect x="468.15" y="407.9" width="1.2" height="20.1" fill="rgba(239,83,80,0.38)"/>
<rect x="469.73" y="421.1" width="1.2" height="6.9" fill="rgba(239,83,80,0.38)"/>
<rect x="471.30" y="420.0" width="1.2" height="8.0" fill="rgba(239,83,80,0.38)"/>
<rect x="472.87" y="409.9" width="1.2" height="18.1" fill="rgba(38,166,154,0.38)"/>
<rect x="474.44" y="418.3" width="1.2" height="9.7" fill="rgba(38,166,154,0.38)"/>
<rect x="476.01" y="421.3" width="1.2" height="6.7" fill="rgba(38,166,154,0.38)"/>
<rect x="477.58" y="411.5" width="1.2" height="16.5" fill="rgba(38,166,154,0.38)"/>
<rect x="479.16" y="411.9" width="1.2" height="16.1" fill="rgba(239,83,80,0.38)"/>
<rect x="480.73" y="412.8" width="1.2" height="15.2" fill="rgba(239,83,80,0.38)"/>
<rect x="482.30" y="409.8" width="1.2" height="18.2" fill="rgba(239,83,80,0.38)"/>
<rect x="483.87" y="419.9" width="1.2" height="8.1" fill="rgba(38,166,154,0.38)"/>
<rect x="485.44" y="407.0" width="1.2" height="21.0" fill="rgba(38,166,154,0.38)"/>
<rect x="487.01" y="409.6" width="1.2" height="18.4" fill="rgba(38,166,154,0.38)"/>
<rect x="488.59" y="420.8" width="1.2" height="7.2" fill="rgba(239,83,80,0.38)"/>
<rect x="490.16" y="419.5" width="1.2" height="8.5" fill="rgba(239,83,80,0.38)"/>
<rect x="491.73" y="413.3" width="1.2" height="14.7" fill="rgba(239,83,80,0.38)"/>
<rect x="493.30" y="413.2" width="1.2" height="14.8" fill="rgba(239,83,80,0.38)"/>
<rect x="494.87" y="416.9" width="1.2" height="11.1" fill="rgba(239,83,80,0.38)"/>
<rect x="496.45" y="419.5" width="1.2" height="8.5" fill="rgba(239,83,80,0.38)"/>
<rect x="498.02" y="414.8" width="1.2" height="13.2" fill="rgba(239,83,80,0.38)"/>
<rect x="499.59" y="419.5" width="1.2" height="8.5" fill="rgba(38,166,154,0.38)"/>
<rect x="501.16" y="415.3" width="1.2" height="12.7" fill="rgba(38,166,154,0.38)"/>
<rect x="502.73" y="415.8" width="1.2" height="12.2" fill="rgba(38,166,154,0.38)"/>
<rect x="504.30" y="423.6" width="1.2" height="4.4" fill="rgba(38,166,154,0.38)"/>
<rect x="505.88" y="420.0" width="1.2" height="8.0" fill="rgba(38,166,154,0.38)"/>
<rect x="507.45" y="418.5" width="1.2" height="9.5" fill="rgba(239,83,80,0.38)"/>
<rect x="509.02" y="423.4" width="1.2" height="4.6" fill="rgba(239,83,80,0.38)"/>
<rect x="510.59" y="417.9" width="1.2" height="10.1" fill="rgba(38,166,154,0.38)"/>
<rect x="512.16" y="416.9" width="1.2" height="11.1" fill="rgba(239,83,80,0.38)"/>
<rect x="513.73" y="421.5" width="1.2" height="6.5" fill="rgba(239,83,80,0.38)"/>
<rect x="515.31" y="421.3" width="1.2" height="6.7" fill="rgba(239,83,80,0.38)"/>
<rect x="516.88" y="417.7" width="1.2" height="10.3" fill="rgba(38,166,154,0.38)"/>
<rect x="518.45" y="420.4" width="1.2" height="7.6" fill="rgba(38,166,154,0.38)"/>
<rect x="520.02" y="421.5" width="1.2" height="6.5" fill="rgba(38,166,154,0.38)"/>
<rect x="521.59" y="416.9" width="1.2" height="11.1" fill="rgba(239,83,80,0.38)"/>
<rect x="523.16" y="418.3" width="1.2" height="9.7" fill="rgba(38,166,154,0.38)"/>
<rect x="524.74" y="422.0" width="1.2" height="6.0" fill="rgba(239,83,80,0.38)"/>
<rect x="526.31" y="422.8" width="1.2" height="5.2" fill="rgba(239,83,80,0.38)"/>
<rect x="527.88" y="422.0" width="1.2" height="6.0" fill="rgba(38,166,154,0.38)"/>
<rect x="529.45" y="421.0" width="1.2" height="7.0" fill="rgba(239,83,80,0.38)"/>
<rect x="531.02" y="407.9" width="1.2" height="20.1" fill="rgba(239,83,80,0.38)"/>
<rect x="532.59" y="403.1" width="1.2" height="24.9" fill="rgba(239,83,80,0.38)"/>
<rect x="534.17" y="396.8" width="1.2" height="31.2" fill="rgba(239,83,80,0.38)"/>
<rect x="535.74" y="399.1" width="1.2" height="28.9" fill="rgba(239,83,80,0.38)"/>
<rect x="537.31" y="398.3" width="1.2" height="29.7" fill="rgba(239,83,80,0.38)"/>
<rect x="538.88" y="398.0" width="1.2" height="30.0" fill="rgba(239,83,80,0.38)"/>
<rect x="540.45" y="406.3" width="1.2" height="21.7" fill="rgba(239,83,80,0.38)"/>
<rect x="542.02" y="395.7" width="1.2" height="32.3" fill="rgba(239,83,80,0.38)"/>
<rect x="543.60" y="396.2" width="1.2" height="31.8" fill="rgba(38,166,154,0.38)"/>
<rect x="545.17" y="412.8" width="1.2" height="15.2" fill="rgba(38,166,154,0.38)"/>
<rect x="546.74" y="408.6" width="1.2" height="19.4" fill="rgba(38,166,154,0.38)"/>
<rect x="548.31" y="403.5" width="1.2" height="24.5" fill="rgba(239,83,80,0.38)"/>
<rect x="549.88" y="410.0" width="1.2" height="18.0" fill="rgba(239,83,80,0.38)"/>
<rect x="551.45" y="406.0" width="1.2" height="22.0" fill="rgba(239,83,80,0.38)"/>
<rect x="553.03" y="417.1" width="1.2" height="10.9" fill="rgba(38,166,154,0.38)"/>
<rect x="554.60" y="408.3" width="1.2" height="19.7" fill="rgba(239,83,80,0.38)"/>
<rect x="556.17" y="406.6" width="1.2" height="21.4" fill="rgba(239,83,80,0.38)"/>
<rect x="557.74" y="418.3" width="1.2" height="9.7" fill="rgba(239,83,80,0.38)"/>
<rect x="559.31" y="415.4" width="1.2" height="12.6" fill="rgba(38,166,154,0.38)"/>
<rect x="560.88" y="401.7" width="1.2" height="26.3" fill="rgba(38,166,154,0.38)"/>
<rect x="562.46" y="411.2" width="1.2" height="16.8" fill="rgba(38,166,154,0.38)"/>
<rect x="564.03" y="412.8" width="1.2" height="15.2" fill="rgba(38,166,154,0.38)"/>
<rect x="565.60" y="416.3" width="1.2" height="11.7" fill="rgba(239,83,80,0.38)"/>
<rect x="567.17" y="414.3" width="1.2" height="13.7" fill="rgba(38,166,154,0.38)"/>
<rect x="568.74" y="413.4" width="1.2" height="14.6" fill="rgba(38,166,154,0.38)"/>
<rect x="570.31" y="413.4" width="1.2" height="14.6" fill="rgba(38,166,154,0.38)"/>
<rect x="571.89" y="423.2" width="1.2" height="4.8" fill="rgba(38,166,154,0.38)"/>
<rect x="573.46" y="416.2" width="1.2" height="11.8" fill="rgba(38,166,154,0.38)"/>
<rect x="575.03" y="420.5" width="1.2" height="7.5" fill="rgba(38,166,154,0.38)"/>
<rect x="576.60" y="415.8" width="1.2" height="12.2" fill="rgba(38,166,154,0.38)"/>
<rect x="578.17" y="420.4" width="1.2" height="7.6" fill="rgba(239,83,80,0.38)"/>
<rect x="579.75" y="417.3" width="1.2" height="10.7" fill="rgba(38,166,154,0.38)"/>
<rect x="581.32" y="412.9" width="1.2" height="15.1" fill="rgba(239,83,80,0.38)"/>
<rect x="582.89" y="416.4" width="1.2" height="11.6" fill="rgba(38,166,154,0.38)"/>
<rect x="584.46" y="420.7" width="1.2" height="7.3" fill="rgba(239,83,80,0.38)"/>
<rect x="586.03" y="417.6" width="1.2" height="10.4" fill="rgba(38,166,154,0.38)"/>
<rect x="587.60" y="418.6" width="1.2" height="9.4" fill="rgba(239,83,80,0.38)"/>
<rect x="589.18" y="412.6" width="1.2" height="15.4" fill="rgba(38,166,154,0.38)"/>
<rect x="590.75" y="420.3" width="1.2" height="7.7" fill="rgba(38,166,154,0.38)"/>
<rect x="592.32" y="420.1" width="1.2" height="7.9" fill="rgba(38,166,154,0.38)"/>
<rect x="593.89" y="416.1" width="1.2" height="11.9" fill="rgba(239,83,80,0.38)"/>
<rect x="595.46" y="422.2" width="1.2" height="5.8" fill="rgba(239,83,80,0.38)"/>
<rect x="597.03" y="416.7" width="1.2" height="11.3" fill="rgba(38,166,154,0.38)"/>
<rect x="598.61" y="407.5" width="1.2" height="20.5" fill="rgba(38,166,154,0.38)"/>
<rect x="600.18" y="409.8" width="1.2" height="18.2" fill="rgba(38,166,154,0.38)"/>
<rect x="601.75" y="412.3" width="1.2" height="15.7" fill="rgba(239,83,80,0.38)"/>
<rect x="603.32" y="407.5" width="1.2" height="20.5" fill="rgba(239,83,80,0.38)"/>
<rect x="604.89" y="405.9" width="1.2" height="22.1" fill="rgba(38,166,154,0.38)"/>
<rect x="606.46" y="343.0" width="1.2" height="85.0" fill="rgba(38,166,154,0.38)"/>
<rect x="608.04" y="415.8" width="1.2" height="12.2" fill="rgba(38,166,154,0.38)"/>
<rect x="609.61" y="392.0" width="1.2" height="36.0" fill="rgba(38,166,154,0.38)"/>
<rect x="611.18" y="411.7" width="1.2" height="16.3" fill="rgba(38,166,154,0.38)"/>
<rect x="612.75" y="409.0" width="1.2" height="19.0" fill="rgba(38,166,154,0.38)"/>
<rect x="614.32" y="350.0" width="1.2" height="78.0" fill="rgba(38,166,154,0.38)"/>
<rect x="615.89" y="412.9" width="1.2" height="15.1" fill="rgba(38,166,154,0.38)"/>
<rect x="617.47" y="416.7" width="1.2" height="11.3" fill="rgba(239,83,80,0.38)"/>
<rect x="619.04" y="357.0" width="1.2" height="71.0" fill="rgba(239,83,80,0.38)"/>
<rect x="620.61" y="398.5" width="1.2" height="29.5" fill="rgba(239,83,80,0.38)"/>
<rect x="622.18" y="393.0" width="1.2" height="35.0" fill="rgba(38,166,154,0.38)"/>
<rect x="623.75" y="405.0" width="1.2" height="23.0" fill="rgba(239,83,80,0.38)"/>
<rect x="625.32" y="395.0" width="1.2" height="33.0" fill="rgba(239,83,80,0.38)"/>
<rect x="626.90" y="413.9" width="1.2" height="14.1" fill="rgba(38,166,154,0.38)"/>
<rect x="628.47" y="401.6" width="1.2" height="26.4" fill="rgba(38,166,154,0.38)"/>
<rect x="630.04" y="407.7" width="1.2" height="20.3" fill="rgba(38,166,154,0.38)"/>
<rect x="631.61" y="405.6" width="1.2" height="22.4" fill="rgba(38,166,154,0.38)"/>
<rect x="633.18" y="404.0" width="1.2" height="24.0" fill="rgba(38,166,154,0.38)"/>
<rect x="634.75" y="407.5" width="1.2" height="20.5" fill="rgba(38,166,154,0.38)"/>
<rect x="636.33" y="395.0" width="1.2" height="33.0" fill="rgba(38,166,154,0.38)"/>
<rect x="637.90" y="412.9" width="1.2" height="15.1" fill="rgba(239,83,80,0.38)"/>
<rect x="639.47" y="413.4" width="1.2" height="14.6" fill="rgba(239,83,80,0.38)"/>
<rect x="641.04" y="406.4" width="1.2" height="21.6" fill="rgba(239,83,80,0.38)"/>
<rect x="642.61" y="409.5" width="1.2" height="18.5" fill="rgba(38,166,154,0.38)"/>
<rect x="644.18" y="404.7" width="1.2" height="23.3" fill="rgba(239,83,80,0.38)"/>
<rect x="645.76" y="418.5" width="1.2" height="9.5" fill="rgba(38,166,154,0.38)"/>
<rect x="647.33" y="410.3" width="1.2" height="17.7" fill="rgba(38,166,154,0.38)"/>
<rect x="648.90" y="398.0" width="1.2" height="30.0" fill="rgba(239,83,80,0.38)"/>
<line x1="27.11" y1="389.7" x2="27.11" y2="391.7" stroke="#26a69a" stroke-width="0.6"/>
<rect x="26.41" y="390.5" width="1.4" height="0.8" fill="#26a69a"/>
<line x1="28.68" y1="387.9" x2="28.68" y2="391.4" stroke="#26a69a" stroke-width="0.6"/>
<rect x="27.98" y="389.8" width="1.4" height="0.8" fill="#26a69a"/>
<line x1="30.25" y1="388.9" x2="30.25" y2="392.5" stroke="#ef5350" stroke-width="0.6"/>
<rect x="29.55" y="389.9" width="1.4" height="1.9" fill="#ef5350"/>
<line x1="31.82" y1="390.9" x2="31.82" y2="393.2" stroke="#26a69a" stroke-width="0.6"/>
<rect x="31.12" y="392.0" width="1.4" height="0.8" fill="#26a69a"/>
<line x1="33.39" y1="389.8" x2="33.39" y2="393.6" stroke="#ef5350" stroke-width="0.6"/>
<rect x="32.69" y="391.5" width="1.4" height="1.0" fill="#ef5350"/>
<line x1="34.97" y1="391.3" x2="34.97" y2="395.3" stroke="#ef5350" stroke-width="0.6"/>
<rect x="34.27" y="392.5" width="1.4" height="1.4" fill="#ef5350"/>
<line x1="36.54" y1="392.7" x2="36.54" y2="397.5" stroke="#ef5350" stroke-width="0.6"/>
<rect x="35.84" y="394.1" width="1.4" height="0.8" fill="#ef5350"/>
<line x1="38.11" y1="393.8" x2="38.11" y2="396.9" stroke="#ef5350" stroke-width="0.6"/>
<rect x="37.41" y="395.1" width="1.4" height="0.8" fill="#ef5350"/>
<line x1="39.68" y1="393.6" x2="39.68" y2="396.2" stroke="#26a69a" stroke-width="0.6"/>
<rect x="38.98" y="394.9" width="1.4" height="0.8" fill="#26a69a"/>
<line x1="41.25" y1="393.3" x2="41.25" y2="396.7" stroke="#26a69a" stroke-width="0.6"/>
<rect x="40.55" y="394.5" width="1.4" height="0.8" fill="#26a69a"/>
<line x1="42.82" y1="392.9" x2="42.82" y2="397.0" stroke="#26a69a" stroke-width="0.6"/>
<rect x="42.12" y="393.9" width="1.4" height="0.8" fill="#26a69a"/>
<line x1="44.40" y1="391.2" x2="44.40" y2="395.4" stroke="#ef5350" stroke-width="0.6"/>
<rect x="43.70" y="394.3" width="1.4" height="0.8" fill="#ef5350"/>
<line x1="45.97" y1="393.1" x2="45.97" y2="395.1" stroke="#ef5350" stroke-width="0.6"/>
<rect x="45.27" y="394.2" width="1.4" height="0.8" fill="#ef5350"/>
<line x1="47.54" y1="391.7" x2="47.54" y2="396.5" stroke="#26a69a" stroke-width="0.6"/>
<rect x="46.84" y="393.1" width="1.4" height="1.7" fill="#26a69a"/>
<line x1="49.11" y1="392.5" x2="49.11" y2="397.3" stroke="#ef5350" stroke-width="0.6"/>
<rect x="48.41" y="393.2" width="1.4" height="1.9" fill="#ef5350"/>
<line x1="50.68" y1="393.8" x2="50.68" y2="397.5" stroke="#ef5350" stroke-width="0.6"/>
<rect x="49.98" y="394.9" width="1.4" height="0.8" fill="#ef5350"/>
<line x1="52.25" y1="391.6" x2="52.25" y2="398.3" stroke="#26a69a" stroke-width="0.6"/>
<rect x="51.55" y="393.8" width="1.4" height="1.4" fill="#26a69a"/>
<line x1="53.83" y1="390.0" x2="53.83" y2="395.1" stroke="#26a69a" stroke-width="0.6"/>
<rect x="53.13" y="392.4" width="1.4" height="1.5" fill="#26a69a"/>
<line x1="55.40" y1="390.0" x2="55.40" y2="393.1" stroke="#26a69a" stroke-width="0.6"/>
<rect x="54.70" y="391.0" width="1.4" height="0.8" fill="#26a69a"/>
<line x1="56.97" y1="388.4" x2="56.97" y2="392.0" stroke="#26a69a" stroke-width="0.6"/>
<rect x="56.27" y="390.4" width="1.4" height="0.9" fill="#26a69a"/>
<line x1="58.54" y1="387.9" x2="58.54" y2="392.4" stroke="#ef5350" stroke-width="0.6"/>
<rect x="57.84" y="390.5" width="1.4" height="0.8" fill="#ef5350"/>
<line x1="60.11" y1="388.7" x2="60.11" y2="393.6" stroke="#ef5350" stroke-width="0.6"/>
<rect x="59.41" y="391.2" width="1.4" height="0.8" fill="#ef5350"/>
<line x1="61.68" y1="388.5" x2="61.68" y2="393.8" stroke="#ef5350" stroke-width="0.6"/>
<rect x="60.98" y="391.6" width="1.4" height="0.9" fill="#ef5350"/>
<line x1="63.26" y1="390.5" x2="63.26" y2="393.8" stroke="#26a69a" stroke-width="0.6"/>
<rect x="62.56" y="391.2" width="1.4" height="0.8" fill="#26a69a"/>
<line x1="64.83" y1="383.4" x2="64.83" y2="392.4" stroke="#26a69a" stroke-width="0.6"/>
<rect x="64.13" y="384.6" width="1.4" height="7.1" fill="#26a69a"/>
<line x1="66.40" y1="384.2" x2="66.40" y2="387.6" stroke="#ef5350" stroke-width="0.6"/>
<rect x="65.70" y="384.8" width="1.4" height="0.8" fill="#ef5350"/>
<line x1="67.97" y1="383.5" x2="67.97" y2="386.0" stroke="#26a69a" stroke-width="0.6"/>
<rect x="67.27" y="385.3" width="1.4" height="0.8" fill="#26a69a"/>
<line x1="69.54" y1="380.0" x2="69.54" y2="386.7" stroke="#26a69a" stroke-width="0.6"/>
<rect x="68.84" y="382.4" width="1.4" height="3.2" fill="#26a69a"/>
<line x1="71.11" y1="377.6" x2="71.11" y2="383.5" stroke="#26a69a" stroke-width="0.6"/>
<rect x="70.41" y="378.4" width="1.4" height="4.0" fill="#26a69a"/>
<line x1="72.69" y1="375.0" x2="72.69" y2="383.3" stroke="#ef5350" stroke-width="0.6"/>
<rect x="71.99" y="378.1" width="1.4" height="2.1" fill="#ef5350"/>
<line x1="74.26" y1="374.7" x2="74.26" y2="382.7" stroke="#26a69a" stroke-width="0.6"/>
<rect x="73.56" y="377.6" width="1.4" height="2.8" fill="#26a69a"/>
<line x1="75.83" y1="376.7" x2="75.83" y2="379.3" stroke="#26a69a" stroke-width="0.6"/>
<rect x="75.13" y="377.5" width="1.4" height="0.8" fill="#26a69a"/>
<line x1="77.40" y1="374.5" x2="77.40" y2="378.1" stroke="#26a69a" stroke-width="0.6"/>
<rect x="76.70" y="376.1" width="1.4" height="1.4" fill="#26a69a"/>
<line x1="78.97" y1="369.8" x2="78.97" y2="377.5" stroke="#26a69a" stroke-width="0.6"/>
<rect x="78.27" y="374.5" width="1.4" height="1.8" fill="#26a69a"/>
<line x1="80.54" y1="368.6" x2="80.54" y2="376.8" stroke="#26a69a" stroke-width="0.6"/>
<rect x="79.84" y="369.1" width="1.4" height="5.3" fill="#26a69a"/>
<line x1="82.12" y1="360.9" x2="82.12" y2="375.1" stroke="#26a69a" stroke-width="0.6"/>
<rect x="81.42" y="365.2" width="1.4" height="4.1" fill="#26a69a"/>
<line x1="83.69" y1="359.2" x2="83.69" y2="366.3" stroke="#26a69a" stroke-width="0.6"/>
<rect x="82.99" y="360.5" width="1.4" height="4.8" fill="#26a69a"/>
<line x1="85.26" y1="358.7" x2="85.26" y2="362.3" stroke="#26a69a" stroke-width="0.6"/>
<rect x="84.56" y="359.8" width="1.4" height="0.9" fill="#26a69a"/>
<line x1="86.83" y1="358.3" x2="86.83" y2="364.9" stroke="#ef5350" stroke-width="0.6"/>
<rect x="86.13" y="359.9" width="1.4" height="4.2" fill="#ef5350"/>
<line x1="88.40" y1="355.5" x2="88.40" y2="365.7" stroke="#26a69a" stroke-width="0.6"/>
<rect x="87.70" y="361.7" width="1.4" height="2.4" fill="#26a69a"/>
<line x1="89.97" y1="360.2" x2="89.97" y2="363.8" stroke="#26a69a" stroke-width="0.6"/>
<rect x="89.27" y="360.8" width="1.4" height="0.8" fill="#26a69a"/>
<line x1="91.55" y1="355.2" x2="91.55" y2="362.5" stroke="#26a69a" stroke-width="0.6"/>
<rect x="90.85" y="359.2" width="1.4" height="2.1" fill="#26a69a"/>
<line x1="93.12" y1="354.4" x2="93.12" y2="365.5" stroke="#26a69a" stroke-width="0.6"/>
<rect x="92.42" y="357.1" width="1.4" height="2.3" fill="#26a69a"/>
<line x1="94.69" y1="354.8" x2="94.69" y2="362.4" stroke="#ef5350" stroke-width="0.6"/>
<rect x="93.99" y="356.7" width="1.4" height="2.1" fill="#ef5350"/>
<line x1="96.26" y1="357.6" x2="96.26" y2="360.0" stroke="#26a69a" stroke-width="0.6"/>
<rect x="95.56" y="358.4" width="1.4" height="0.8" fill="#26a69a"/>
<line x1="97.83" y1="357.7" x2="97.83" y2="362.8" stroke="#ef5350" stroke-width="0.6"/>
<rect x="97.13" y="358.4" width="1.4" height="0.8" fill="#ef5350"/>
<line x1="99.40" y1="352.8" x2="99.40" y2="362.7" stroke="#ef5350" stroke-width="0.6"/>
<rect x="98.70" y="359.0" width="1.4" height="0.8" fill="#ef5350"/>
<line x1="100.98" y1="359.0" x2="100.98" y2="362.0" stroke="#ef5350" stroke-width="0.6"/>
<rect x="100.28" y="359.8" width="1.4" height="0.8" fill="#ef5350"/>
<line x1="102.55" y1="355.3" x2="102.55" y2="363.9" stroke="#26a69a" stroke-width="0.6"/>
<rect x="101.85" y="359.0" width="1.4" height="1.2" fill="#26a69a"/>
<line x1="104.12" y1="356.0" x2="104.12" y2="362.3" stroke="#26a69a" stroke-width="0.6"/>
<rect x="103.42" y="358.6" width="1.4" height="0.8" fill="#26a69a"/>
<line x1="105.69" y1="355.3" x2="105.69" y2="361.4" stroke="#ef5350" stroke-width="0.6"/>
<rect x="104.99" y="358.8" width="1.4" height="0.8" fill="#ef5350"/>
<line x1="107.26" y1="354.8" x2="107.26" y2="362.4" stroke="#26a69a" stroke-width="0.6"/>
<rect x="106.56" y="356.9" width="1.4" height="1.8" fill="#26a69a"/>
<line x1="108.84" y1="351.4" x2="108.84" y2="358.2" stroke="#26a69a" stroke-width="0.6"/>
<rect x="108.14" y="353.9" width="1.4" height="3.4" fill="#26a69a"/>
<line x1="110.41" y1="349.6" x2="110.41" y2="356.1" stroke="#26a69a" stroke-width="0.6"/>
<rect x="109.71" y="350.3" width="1.4" height="4.1" fill="#26a69a"/>
<line x1="111.98" y1="346.8" x2="111.98" y2="354.4" stroke="#ef5350" stroke-width="0.6"/>
<rect x="111.28" y="350.4" width="1.4" height="1.4" fill="#ef5350"/>
<line x1="113.55" y1="348.7" x2="113.55" y2="353.9" stroke="#ef5350" stroke-width="0.6"/>
<rect x="112.85" y="352.2" width="1.4" height="0.8" fill="#ef5350"/>
<line x1="115.12" y1="349.4" x2="115.12" y2="354.0" stroke="#26a69a" stroke-width="0.6"/>
<rect x="114.42" y="350.1" width="1.4" height="3.2" fill="#26a69a"/>
<line x1="116.69" y1="344.7" x2="116.69" y2="355.4" stroke="#ef5350" stroke-width="0.6"/>
<rect x="115.99" y="350.0" width="1.4" height="4.0" fill="#ef5350"/>
<line x1="118.27" y1="352.8" x2="118.27" y2="356.1" stroke="#26a69a" stroke-width="0.6"/>
<rect x="117.57" y="354.0" width="1.4" height="0.8" fill="#26a69a"/>
<line x1="119.84" y1="353.4" x2="119.84" y2="357.5" stroke="#26a69a" stroke-width="0.6"/>
<rect x="119.14" y="354.0" width="1.4" height="0.8" fill="#26a69a"/>
<line x1="121.41" y1="350.0" x2="121.41" y2="358.2" stroke="#26a69a" stroke-width="0.6"/>
<rect x="120.71" y="353.6" width="1.4" height="0.8" fill="#26a69a"/>
<line x1="122.98" y1="347.9" x2="122.98" y2="356.6" stroke="#26a69a" stroke-width="0.6"/>
<rect x="122.28" y="352.3" width="1.4" height="1.6" fill="#26a69a"/>
<line x1="124.55" y1="346.4" x2="124.55" y2="353.2" stroke="#26a69a" stroke-width="0.6"/>
<rect x="123.85" y="349.4" width="1.4" height="3.2" fill="#26a69a"/>
<line x1="126.12" y1="347.4" x2="126.12" y2="351.6" stroke="#ef5350" stroke-width="0.6"/>
<rect x="125.42" y="349.4" width="1.4" height="1.1" fill="#ef5350"/>
<line x1="127.70" y1="348.6" x2="127.70" y2="358.7" stroke="#ef5350" stroke-width="0.6"/>
<rect x="127.00" y="350.5" width="1.4" height="5.1" fill="#ef5350"/>
<line x1="129.27" y1="352.7" x2="129.27" y2="358.5" stroke="#26a69a" stroke-width="0.6"/>
<rect x="128.57" y="354.6" width="1.4" height="0.8" fill="#26a69a"/>
<line x1="130.84" y1="345.9" x2="130.84" y2="357.0" stroke="#26a69a" stroke-width="0.6"/>
<rect x="130.14" y="349.1" width="1.4" height="5.4" fill="#26a69a"/>
<line x1="132.41" y1="345.5" x2="132.41" y2="352.9" stroke="#26a69a" stroke-width="0.6"/>
<rect x="131.71" y="346.4" width="1.4" height="2.9" fill="#26a69a"/>
<line x1="133.98" y1="337.2" x2="133.98" y2="348.2" stroke="#26a69a" stroke-width="0.6"/>
<rect x="133.28" y="340.1" width="1.4" height="6.2" fill="#26a69a"/>
<line x1="135.55" y1="334.2" x2="135.55" y2="340.6" stroke="#26a69a" stroke-width="0.6"/>
<rect x="134.85" y="338.6" width="1.4" height="1.2" fill="#26a69a"/>
<line x1="137.13" y1="330.6" x2="137.13" y2="340.1" stroke="#26a69a" stroke-width="0.6"/>
<rect x="136.43" y="337.3" width="1.4" height="1.5" fill="#26a69a"/>
<line x1="138.70" y1="334.0" x2="138.70" y2="337.9" stroke="#26a69a" stroke-width="0.6"/>
<rect x="138.00" y="336.4" width="1.4" height="0.8" fill="#26a69a"/>
<line x1="140.27" y1="333.3" x2="140.27" y2="337.8" stroke="#26a69a" stroke-width="0.6"/>
<rect x="139.57" y="334.5" width="1.4" height="1.6" fill="#26a69a"/>
<line x1="141.84" y1="332.5" x2="141.84" y2="337.8" stroke="#ef5350" stroke-width="0.6"/>
<rect x="141.14" y="334.7" width="1.4" height="1.8" fill="#ef5350"/>
<line x1="143.41" y1="335.0" x2="143.41" y2="347.0" stroke="#ef5350" stroke-width="0.6"/>
<rect x="142.71" y="336.7" width="1.4" height="4.4" fill="#ef5350"/>
<line x1="144.98" y1="340.2" x2="144.98" y2="345.5" stroke="#ef5350" stroke-width="0.6"/>
<rect x="144.28" y="341.5" width="1.4" height="2.3" fill="#ef5350"/>
<line x1="146.56" y1="341.6" x2="146.56" y2="354.1" stroke="#ef5350" stroke-width="0.6"/>
<rect x="145.86" y="343.3" width="1.4" height="4.0" fill="#ef5350"/>
<line x1="148.13" y1="341.7" x2="148.13" y2="348.3" stroke="#26a69a" stroke-width="0.6"/>
<rect x="147.43" y="347.1" width="1.4" height="0.8" fill="#26a69a"/>
<line x1="149.70" y1="344.5" x2="149.70" y2="352.4" stroke="#ef5350" stroke-width="0.6"/>
<rect x="149.00" y="347.4" width="1.4" height="4.2" fill="#ef5350"/>
<line x1="151.27" y1="350.2" x2="151.27" y2="352.9" stroke="#26a69a" stroke-width="0.6"/>
<rect x="150.57" y="350.8" width="1.4" height="1.1" fill="#26a69a"/>
<line x1="152.84" y1="343.6" x2="152.84" y2="351.5" stroke="#26a69a" stroke-width="0.6"/>
<rect x="152.14" y="346.4" width="1.4" height="4.3" fill="#26a69a"/>
<line x1="154.41" y1="336.0" x2="154.41" y2="349.6" stroke="#26a69a" stroke-width="0.6"/>
<rect x="153.71" y="343.4" width="1.4" height="2.7" fill="#26a69a"/>
<line x1="155.99" y1="340.5" x2="155.99" y2="345.7" stroke="#ef5350" stroke-width="0.6"/>
<rect x="155.29" y="342.6" width="1.4" height="1.3" fill="#ef5350"/>
<line x1="157.56" y1="343.4" x2="157.56" y2="348.2" stroke="#ef5350" stroke-width="0.6"/>
<rect x="156.86" y="344.1" width="1.4" height="2.2" fill="#ef5350"/>
<line x1="159.13" y1="338.5" x2="159.13" y2="348.9" stroke="#26a69a" stroke-width="0.6"/>
<rect x="158.43" y="339.9" width="1.4" height="6.7" fill="#26a69a"/>
<line x1="160.70" y1="336.3" x2="160.70" y2="344.6" stroke="#ef5350" stroke-width="0.6"/>
<rect x="160.00" y="340.4" width="1.4" height="2.0" fill="#ef5350"/>
<line x1="162.27" y1="340.9" x2="162.27" y2="345.8" stroke="#ef5350" stroke-width="0.6"/>
<rect x="161.57" y="342.4" width="1.4" height="0.8" fill="#ef5350"/>
<line x1="163.84" y1="339.5" x2="163.84" y2="357.2" stroke="#ef5350" stroke-width="0.6"/>
<rect x="163.14" y="343.1" width="1.4" height="10.1" fill="#ef5350"/>
<line x1="165.42" y1="345.2" x2="165.42" y2="356.1" stroke="#26a69a" stroke-width="0.6"/>
<rect x="164.72" y="350.5" width="1.4" height="3.1" fill="#26a69a"/>
<line x1="166.99" y1="336.9" x2="166.99" y2="353.0" stroke="#26a69a" stroke-width="0.6"/>
<rect x="166.29" y="343.0" width="1.4" height="7.6" fill="#26a69a"/>
<line x1="168.56" y1="337.0" x2="168.56" y2="344.0" stroke="#26a69a" stroke-width="0.6"/>
<rect x="167.86" y="339.4" width="1.4" height="3.8" fill="#26a69a"/>
<line x1="170.13" y1="336.0" x2="170.13" y2="340.5" stroke="#26a69a" stroke-width="0.6"/>
<rect x="169.43" y="338.1" width="1.4" height="1.4" fill="#26a69a"/>
<line x1="171.70" y1="334.3" x2="171.70" y2="341.0" stroke="#26a69a" stroke-width="0.6"/>
<rect x="171.00" y="335.0" width="1.4" height="3.4" fill="#26a69a"/>
<line x1="173.27" y1="330.9" x2="173.27" y2="335.9" stroke="#26a69a" stroke-width="0.6"/>
<rect x="172.57" y="331.7" width="1.4" height="3.3" fill="#26a69a"/>
<line x1="174.85" y1="330.9" x2="174.85" y2="335.9" stroke="#ef5350" stroke-width="0.6"/>
<rect x="174.15" y="331.7" width="1.4" height="0.8" fill="#ef5350"/>
<line x1="176.42" y1="330.8" x2="176.42" y2="335.9" stroke="#ef5350" stroke-width="0.6"/>
<rect x="175.72" y="332.4" width="1.4" height="2.4" fill="#ef5350"/>
<line x1="177.99" y1="329.1" x2="177.99" y2="337.8" stroke="#ef5350" stroke-width="0.6"/>
<rect x="177.29" y="334.6" width="1.4" height="2.6" fill="#ef5350"/>
<line x1="179.56" y1="331.4" x2="179.56" y2="344.7" stroke="#26a69a" stroke-width="0.6"/>
<rect x="178.86" y="334.8" width="1.4" height="2.6" fill="#26a69a"/>
<line x1="181.13" y1="331.7" x2="181.13" y2="339.3" stroke="#26a69a" stroke-width="0.6"/>
<rect x="180.43" y="333.2" width="1.4" height="2.0" fill="#26a69a"/>
<line x1="182.71" y1="331.2" x2="182.71" y2="334.4" stroke="#26a69a" stroke-width="0.6"/>
<rect x="182.01" y="333.0" width="1.4" height="0.8" fill="#26a69a"/>
<line x1="184.28" y1="332.6" x2="184.28" y2="339.3" stroke="#ef5350" stroke-width="0.6"/>
<rect x="183.58" y="333.2" width="1.4" height="4.1" fill="#ef5350"/>
<line x1="185.85" y1="334.4" x2="185.85" y2="343.3" stroke="#ef5350" stroke-width="0.6"/>
<rect x="185.15" y="337.6" width="1.4" height="2.4" fill="#ef5350"/>
<line x1="187.42" y1="336.6" x2="187.42" y2="343.5" stroke="#26a69a" stroke-width="0.6"/>
<rect x="186.72" y="337.9" width="1.4" height="2.3" fill="#26a69a"/>
<line x1="188.99" y1="337.1" x2="188.99" y2="345.4" stroke="#ef5350" stroke-width="0.6"/>
<rect x="188.29" y="338.2" width="1.4" height="0.8" fill="#ef5350"/>
<line x1="190.56" y1="337.4" x2="190.56" y2="348.1" stroke="#ef5350" stroke-width="0.6"/>
<rect x="189.86" y="338.2" width="1.4" height="2.7" fill="#ef5350"/>
<line x1="192.14" y1="338.1" x2="192.14" y2="342.0" stroke="#ef5350" stroke-width="0.6"/>
<rect x="191.44" y="341.1" width="1.4" height="0.8" fill="#ef5350"/>
<line x1="193.71" y1="338.7" x2="193.71" y2="345.0" stroke="#26a69a" stroke-width="0.6"/>
<rect x="193.01" y="340.1" width="1.4" height="1.4" fill="#26a69a"/>
<line x1="195.28" y1="337.4" x2="195.28" y2="345.9" stroke="#ef5350" stroke-width="0.6"/>
<rect x="194.58" y="340.1" width="1.4" height="3.8" fill="#ef5350"/>
<line x1="196.85" y1="342.9" x2="196.85" y2="347.1" stroke="#ef5350" stroke-width="0.6"/>
<rect x="196.15" y="344.0" width="1.4" height="0.8" fill="#ef5350"/>
<line x1="198.42" y1="341.8" x2="198.42" y2="348.9" stroke="#26a69a" stroke-width="0.6"/>
<rect x="197.72" y="342.3" width="1.4" height="2.3" fill="#26a69a"/>
<line x1="199.99" y1="339.4" x2="199.99" y2="344.2" stroke="#ef5350" stroke-width="0.6"/>
<rect x="199.29" y="341.7" width="1.4" height="0.8" fill="#ef5350"/>
<line x1="201.57" y1="339.9" x2="201.57" y2="346.4" stroke="#26a69a" stroke-width="0.6"/>
<rect x="200.87" y="341.0" width="1.4" height="1.2" fill="#26a69a"/>
<line x1="203.14" y1="337.8" x2="203.14" y2="344.3" stroke="#ef5350" stroke-width="0.6"/>
<rect x="202.44" y="341.2" width="1.4" height="0.8" fill="#ef5350"/>
<line x1="204.71" y1="333.7" x2="204.71" y2="343.8" stroke="#26a69a" stroke-width="0.6"/>
<rect x="204.01" y="336.3" width="1.4" height="4.6" fill="#26a69a"/>
<line x1="206.28" y1="327.4" x2="206.28" y2="341.3" stroke="#26a69a" stroke-width="0.6"/>
<rect x="205.58" y="329.6" width="1.4" height="6.7" fill="#26a69a"/>
<line x1="207.85" y1="327.1" x2="207.85" y2="334.9" stroke="#ef5350" stroke-width="0.6"/>
<rect x="207.15" y="329.2" width="1.4" height="1.5" fill="#ef5350"/>
<line x1="209.42" y1="328.7" x2="209.42" y2="337.3" stroke="#ef5350" stroke-width="0.6"/>
<rect x="208.72" y="330.9" width="1.4" height="4.1" fill="#ef5350"/>
<line x1="211.00" y1="331.4" x2="211.00" y2="339.7" stroke="#ef5350" stroke-width="0.6"/>
<rect x="210.30" y="335.3" width="1.4" height="2.5" fill="#ef5350"/>
<line x1="212.57" y1="331.0" x2="212.57" y2="338.0" stroke="#26a69a" stroke-width="0.6"/>
<rect x="211.87" y="331.8" width="1.4" height="5.8" fill="#26a69a"/>
<line x1="214.14" y1="326.3" x2="214.14" y2="331.8" stroke="#26a69a" stroke-width="0.6"/>
<rect x="213.44" y="330.0" width="1.4" height="1.3" fill="#26a69a"/>
<line x1="215.71" y1="324.9" x2="215.71" y2="332.4" stroke="#26a69a" stroke-width="0.6"/>
<rect x="215.01" y="325.5" width="1.4" height="4.4" fill="#26a69a"/>
<line x1="217.28" y1="322.4" x2="217.28" y2="327.9" stroke="#26a69a" stroke-width="0.6"/>
<rect x="216.58" y="323.1" width="1.4" height="2.5" fill="#26a69a"/>
<line x1="218.85" y1="315.6" x2="218.85" y2="322.9" stroke="#26a69a" stroke-width="0.6"/>
<rect x="218.15" y="318.7" width="1.4" height="3.6" fill="#26a69a"/>
<line x1="220.43" y1="311.5" x2="220.43" y2="322.8" stroke="#26a69a" stroke-width="0.6"/>
<rect x="219.73" y="312.3" width="1.4" height="6.4" fill="#26a69a"/>
<line x1="222.00" y1="308.3" x2="222.00" y2="314.3" stroke="#26a69a" stroke-width="0.6"/>
<rect x="221.30" y="310.0" width="1.4" height="2.3" fill="#26a69a"/>
<line x1="223.57" y1="304.4" x2="223.57" y2="310.4" stroke="#26a69a" stroke-width="0.6"/>
<rect x="222.87" y="305.3" width="1.4" height="4.4" fill="#26a69a"/>
<line x1="225.14" y1="298.1" x2="225.14" y2="309.4" stroke="#26a69a" stroke-width="0.6"/>
<rect x="224.44" y="300.5" width="1.4" height="4.9" fill="#26a69a"/>
<line x1="226.71" y1="288.6" x2="226.71" y2="301.1" stroke="#26a69a" stroke-width="0.6"/>
<rect x="226.01" y="292.0" width="1.4" height="8.2" fill="#26a69a"/>
<line x1="228.28" y1="289.3" x2="228.28" y2="293.6" stroke="#26a69a" stroke-width="0.6"/>
<rect x="227.58" y="291.1" width="1.4" height="0.9" fill="#26a69a"/>
<line x1="229.86" y1="287.7" x2="229.86" y2="298.7" stroke="#ef5350" stroke-width="0.6"/>
<rect x="229.16" y="291.0" width="1.4" height="6.8" fill="#ef5350"/>
<line x1="231.43" y1="294.7" x2="231.43" y2="300.6" stroke="#ef5350" stroke-width="0.6"/>
<rect x="230.73" y="297.1" width="1.4" height="2.3" fill="#ef5350"/>
<line x1="233.00" y1="298.8" x2="233.00" y2="304.0" stroke="#ef5350" stroke-width="0.6"/>
<rect x="232.30" y="300.1" width="1.4" height="0.8" fill="#ef5350"/>
<line x1="234.57" y1="298.7" x2="234.57" y2="302.4" stroke="#ef5350" stroke-width="0.6"/>
<rect x="233.87" y="300.5" width="1.4" height="1.0" fill="#ef5350"/>
<line x1="236.14" y1="297.6" x2="236.14" y2="305.4" stroke="#ef5350" stroke-width="0.6"/>
<rect x="235.44" y="301.1" width="1.4" height="1.1" fill="#ef5350"/>
<line x1="237.71" y1="301.8" x2="237.71" y2="304.1" stroke="#ef5350" stroke-width="0.6"/>
<rect x="237.01" y="302.8" width="1.4" height="0.8" fill="#ef5350"/>
<line x1="239.29" y1="300.9" x2="239.29" y2="309.2" stroke="#ef5350" stroke-width="0.6"/>
<rect x="238.59" y="303.5" width="1.4" height="4.5" fill="#ef5350"/>
<line x1="240.86" y1="305.8" x2="240.86" y2="315.8" stroke="#ef5350" stroke-width="0.6"/>
<rect x="240.16" y="308.3" width="1.4" height="2.5" fill="#ef5350"/>
<line x1="242.43" y1="309.6" x2="242.43" y2="316.5" stroke="#ef5350" stroke-width="0.6"/>
<rect x="241.73" y="310.8" width="1.4" height="4.1" fill="#ef5350"/>
<line x1="244.00" y1="312.4" x2="244.00" y2="319.7" stroke="#ef5350" stroke-width="0.6"/>
<rect x="243.30" y="314.6" width="1.4" height="3.3" fill="#ef5350"/>
<line x1="245.57" y1="306.6" x2="245.57" y2="318.7" stroke="#26a69a" stroke-width="0.6"/>
<rect x="244.87" y="310.6" width="1.4" height="7.6" fill="#26a69a"/>
<line x1="247.14" y1="304.2" x2="247.14" y2="312.2" stroke="#26a69a" stroke-width="0.6"/>
<rect x="246.44" y="304.9" width="1.4" height="6.0" fill="#26a69a"/>
<line x1="248.72" y1="303.3" x2="248.72" y2="312.2" stroke="#ef5350" stroke-width="0.6"/>
<rect x="248.02" y="305.2" width="1.4" height="0.8" fill="#ef5350"/>
<line x1="250.29" y1="300.0" x2="250.29" y2="306.7" stroke="#26a69a" stroke-width="0.6"/>
<rect x="249.59" y="302.1" width="1.4" height="3.9" fill="#26a69a"/>
<line x1="251.86" y1="291.4" x2="251.86" y2="306.3" stroke="#26a69a" stroke-width="0.6"/>
<rect x="251.16" y="295.5" width="1.4" height="7.2" fill="#26a69a"/>
<line x1="253.43" y1="290.0" x2="253.43" y2="296.7" stroke="#26a69a" stroke-width="0.6"/>
<rect x="252.73" y="293.5" width="1.4" height="1.5" fill="#26a69a"/>
<line x1="255.00" y1="292.6" x2="255.00" y2="298.0" stroke="#ef5350" stroke-width="0.6"/>
<rect x="254.30" y="293.4" width="1.4" height="1.2" fill="#ef5350"/>
<line x1="256.57" y1="293.6" x2="256.57" y2="296.5" stroke="#ef5350" stroke-width="0.6"/>
<rect x="255.88" y="294.2" width="1.4" height="1.0" fill="#ef5350"/>
<line x1="258.15" y1="292.3" x2="258.15" y2="297.3" stroke="#ef5350" stroke-width="0.6"/>
<rect x="257.45" y="295.2" width="1.4" height="1.2" fill="#ef5350"/>
<line x1="259.72" y1="294.4" x2="259.72" y2="297.7" stroke="#ef5350" stroke-width="0.6"/>
<rect x="259.02" y="296.9" width="1.4" height="0.8" fill="#ef5350"/>
<line x1="261.29" y1="293.7" x2="261.29" y2="299.3" stroke="#ef5350" stroke-width="0.6"/>
<rect x="260.59" y="296.7" width="1.4" height="1.2" fill="#ef5350"/>
<line x1="262.86" y1="296.1" x2="262.86" y2="305.2" stroke="#ef5350" stroke-width="0.6"/>
<rect x="262.16" y="298.0" width="1.4" height="1.2" fill="#ef5350"/>
<line x1="264.43" y1="289.2" x2="264.43" y2="304.6" stroke="#26a69a" stroke-width="0.6"/>
<rect x="263.73" y="297.0" width="1.4" height="2.3" fill="#26a69a"/>
<line x1="266.01" y1="294.7" x2="266.01" y2="298.6" stroke="#26a69a" stroke-width="0.6"/>
<rect x="265.31" y="295.6" width="1.4" height="1.4" fill="#26a69a"/>
<line x1="267.58" y1="294.4" x2="267.58" y2="298.2" stroke="#26a69a" stroke-width="0.6"/>
<rect x="266.88" y="295.0" width="1.4" height="0.8" fill="#26a69a"/>
<line x1="269.15" y1="291.0" x2="269.15" y2="297.9" stroke="#26a69a" stroke-width="0.6"/>
<rect x="268.45" y="291.5" width="1.4" height="3.2" fill="#26a69a"/>
<line x1="270.72" y1="288.5" x2="270.72" y2="293.9" stroke="#26a69a" stroke-width="0.6"/>
<rect x="270.02" y="290.7" width="1.4" height="1.0" fill="#26a69a"/>
<line x1="272.29" y1="289.0" x2="272.29" y2="294.2" stroke="#ef5350" stroke-width="0.6"/>
<rect x="271.59" y="290.8" width="1.4" height="2.6" fill="#ef5350"/>
<line x1="273.86" y1="288.6" x2="273.86" y2="295.3" stroke="#26a69a" stroke-width="0.6"/>
<rect x="273.16" y="290.3" width="1.4" height="3.1" fill="#26a69a"/>
<line x1="275.44" y1="287.7" x2="275.44" y2="293.1" stroke="#ef5350" stroke-width="0.6"/>
<rect x="274.74" y="290.5" width="1.4" height="0.8" fill="#ef5350"/>
<line x1="277.01" y1="289.9" x2="277.01" y2="295.8" stroke="#ef5350" stroke-width="0.6"/>
<rect x="276.31" y="290.7" width="1.4" height="4.2" fill="#ef5350"/>
<line x1="278.58" y1="292.2" x2="278.58" y2="297.9" stroke="#ef5350" stroke-width="0.6"/>
<rect x="277.88" y="295.0" width="1.4" height="0.8" fill="#ef5350"/>
<line x1="280.15" y1="288.1" x2="280.15" y2="299.9" stroke="#26a69a" stroke-width="0.6"/>
<rect x="279.45" y="293.2" width="1.4" height="2.4" fill="#26a69a"/>
<line x1="281.72" y1="290.2" x2="281.72" y2="294.2" stroke="#ef5350" stroke-width="0.6"/>
<rect x="281.02" y="292.7" width="1.4" height="0.8" fill="#ef5350"/>
<line x1="283.29" y1="287.9" x2="283.29" y2="294.5" stroke="#26a69a" stroke-width="0.6"/>
<rect x="282.59" y="292.3" width="1.4" height="1.2" fill="#26a69a"/>
<line x1="284.87" y1="289.0" x2="284.87" y2="296.3" stroke="#ef5350" stroke-width="0.6"/>
<rect x="284.17" y="292.1" width="1.4" height="0.8" fill="#ef5350"/>
<line x1="286.44" y1="281.0" x2="286.44" y2="294.0" stroke="#26a69a" stroke-width="0.6"/>
<rect x="285.74" y="285.9" width="1.4" height="6.5" fill="#26a69a"/>
<line x1="288.01" y1="282.5" x2="288.01" y2="288.8" stroke="#26a69a" stroke-width="0.6"/>
<rect x="287.31" y="284.3" width="1.4" height="2.2" fill="#26a69a"/>
<line x1="289.58" y1="278.8" x2="289.58" y2="288.0" stroke="#26a69a" stroke-width="0.6"/>
<rect x="288.88" y="281.9" width="1.4" height="2.6" fill="#26a69a"/>
<line x1="291.15" y1="274.7" x2="291.15" y2="283.0" stroke="#26a69a" stroke-width="0.6"/>
<rect x="290.45" y="278.6" width="1.4" height="3.4" fill="#26a69a"/>
<line x1="292.72" y1="275.0" x2="292.72" y2="279.4" stroke="#26a69a" stroke-width="0.6"/>
<rect x="292.02" y="275.8" width="1.4" height="2.9" fill="#26a69a"/>
<line x1="294.30" y1="272.0" x2="294.30" y2="278.1" stroke="#ef5350" stroke-width="0.6"/>
<rect x="293.60" y="276.1" width="1.4" height="0.8" fill="#ef5350"/>
<line x1="295.87" y1="275.7" x2="295.87" y2="282.6" stroke="#ef5350" stroke-width="0.6"/>
<rect x="295.17" y="276.4" width="1.4" height="3.7" fill="#ef5350"/>
<line x1="297.44" y1="279.4" x2="297.44" y2="284.5" stroke="#ef5350" stroke-width="0.6"/>
<rect x="296.74" y="280.1" width="1.4" height="3.5" fill="#ef5350"/>
<line x1="299.01" y1="276.0" x2="299.01" y2="285.0" stroke="#26a69a" stroke-width="0.6"/>
<rect x="298.31" y="278.2" width="1.4" height="5.3" fill="#26a69a"/>
<line x1="300.58" y1="275.2" x2="300.58" y2="278.8" stroke="#26a69a" stroke-width="0.6"/>
<rect x="299.88" y="275.8" width="1.4" height="1.9" fill="#26a69a"/>
<line x1="302.15" y1="274.5" x2="302.15" y2="278.1" stroke="#26a69a" stroke-width="0.6"/>
<rect x="301.45" y="275.7" width="1.4" height="0.8" fill="#26a69a"/>
<line x1="303.73" y1="273.0" x2="303.73" y2="281.9" stroke="#ef5350" stroke-width="0.6"/>
<rect x="303.03" y="275.2" width="1.4" height="6.1" fill="#ef5350"/>
<line x1="305.30" y1="280.0" x2="305.30" y2="289.1" stroke="#ef5350" stroke-width="0.6"/>
<rect x="304.60" y="281.3" width="1.4" height="5.5" fill="#ef5350"/>
<line x1="306.87" y1="285.1" x2="306.87" y2="294.7" stroke="#ef5350" stroke-width="0.6"/>
<rect x="306.17" y="287.3" width="1.4" height="0.8" fill="#ef5350"/>
<line x1="308.44" y1="284.5" x2="308.44" y2="291.2" stroke="#26a69a" stroke-width="0.6"/>
<rect x="307.74" y="285.4" width="1.4" height="2.6" fill="#26a69a"/>
<line x1="310.01" y1="280.4" x2="310.01" y2="287.4" stroke="#26a69a" stroke-width="0.6"/>
<rect x="309.31" y="282.5" width="1.4" height="2.3" fill="#26a69a"/>
<line x1="311.58" y1="282.3" x2="311.58" y2="285.5" stroke="#ef5350" stroke-width="0.6"/>
<rect x="310.88" y="283.3" width="1.4" height="1.0" fill="#ef5350"/>
<line x1="313.16" y1="279.6" x2="313.16" y2="289.4" stroke="#ef5350" stroke-width="0.6"/>
<rect x="312.46" y="284.4" width="1.4" height="1.3" fill="#ef5350"/>
<line x1="314.73" y1="281.5" x2="314.73" y2="286.1" stroke="#26a69a" stroke-width="0.6"/>
<rect x="314.03" y="284.1" width="1.4" height="0.8" fill="#26a69a"/>
<line x1="316.30" y1="284.2" x2="316.30" y2="286.9" stroke="#ef5350" stroke-width="0.6"/>
<rect x="315.60" y="284.7" width="1.4" height="1.0" fill="#ef5350"/>
<line x1="317.87" y1="281.6" x2="317.87" y2="287.6" stroke="#26a69a" stroke-width="0.6"/>
<rect x="317.17" y="283.7" width="1.4" height="1.7" fill="#26a69a"/>
<line x1="319.44" y1="282.7" x2="319.44" y2="286.6" stroke="#26a69a" stroke-width="0.6"/>
<rect x="318.74" y="283.7" width="1.4" height="0.8" fill="#26a69a"/>
<line x1="321.01" y1="280.4" x2="321.01" y2="284.5" stroke="#26a69a" stroke-width="0.6"/>
<rect x="320.31" y="282.6" width="1.4" height="1.0" fill="#26a69a"/>
<line x1="322.59" y1="275.1" x2="322.59" y2="286.0" stroke="#26a69a" stroke-width="0.6"/>
<rect x="321.89" y="276.8" width="1.4" height="6.3" fill="#26a69a"/>
<line x1="324.16" y1="272.1" x2="324.16" y2="281.6" stroke="#26a69a" stroke-width="0.6"/>
<rect x="323.46" y="276.7" width="1.4" height="0.8" fill="#26a69a"/>
<line x1="325.73" y1="272.7" x2="325.73" y2="277.8" stroke="#26a69a" stroke-width="0.6"/>
<rect x="325.03" y="273.7" width="1.4" height="3.2" fill="#26a69a"/>
<line x1="327.30" y1="266.4" x2="327.30" y2="275.3" stroke="#26a69a" stroke-width="0.6"/>
<rect x="326.60" y="267.0" width="1.4" height="7.0" fill="#26a69a"/>
<line x1="328.87" y1="263.7" x2="328.87" y2="268.5" stroke="#26a69a" stroke-width="0.6"/>
<rect x="328.17" y="266.0" width="1.4" height="1.0" fill="#26a69a"/>
<line x1="330.44" y1="262.0" x2="330.44" y2="267.6" stroke="#26a69a" stroke-width="0.6"/>
<rect x="329.74" y="263.6" width="1.4" height="1.7" fill="#26a69a"/>
<line x1="332.02" y1="262.7" x2="332.02" y2="268.5" stroke="#ef5350" stroke-width="0.6"/>
<rect x="331.32" y="263.5" width="1.4" height="0.8" fill="#ef5350"/>
<line x1="333.59" y1="254.8" x2="333.59" y2="264.7" stroke="#26a69a" stroke-width="0.6"/>
<rect x="332.89" y="259.6" width="1.4" height="4.5" fill="#26a69a"/>
<line x1="335.16" y1="258.2" x2="335.16" y2="260.1" stroke="#26a69a" stroke-width="0.6"/>
<rect x="334.46" y="259.2" width="1.4" height="0.8" fill="#26a69a"/>
<line x1="336.73" y1="247.1" x2="336.73" y2="261.8" stroke="#26a69a" stroke-width="0.6"/>
<rect x="336.03" y="253.9" width="1.4" height="5.7" fill="#26a69a"/>
<line x1="338.30" y1="242.4" x2="338.30" y2="255.8" stroke="#26a69a" stroke-width="0.6"/>
<rect x="337.60" y="245.6" width="1.4" height="8.4" fill="#26a69a"/>
<line x1="339.88" y1="238.7" x2="339.88" y2="250.1" stroke="#26a69a" stroke-width="0.6"/>
<rect x="339.18" y="240.6" width="1.4" height="5.0" fill="#26a69a"/>
<line x1="341.45" y1="235.4" x2="341.45" y2="242.0" stroke="#26a69a" stroke-width="0.6"/>
<rect x="340.75" y="237.7" width="1.4" height="2.4" fill="#26a69a"/>
<line x1="343.02" y1="237.3" x2="343.02" y2="239.7" stroke="#ef5350" stroke-width="0.6"/>
<rect x="342.32" y="238.0" width="1.4" height="0.8" fill="#ef5350"/>
<line x1="344.59" y1="238.1" x2="344.59" y2="242.8" stroke="#ef5350" stroke-width="0.6"/>
<rect x="343.89" y="238.7" width="1.4" height="2.7" fill="#ef5350"/>
<line x1="346.16" y1="237.5" x2="346.16" y2="252.2" stroke="#ef5350" stroke-width="0.6"/>
<rect x="345.46" y="241.4" width="1.4" height="3.8" fill="#ef5350"/>
<line x1="347.73" y1="244.0" x2="347.73" y2="247.5" stroke="#ef5350" stroke-width="0.6"/>
<rect x="347.03" y="244.6" width="1.4" height="1.3" fill="#ef5350"/>
<line x1="349.31" y1="244.6" x2="349.31" y2="249.4" stroke="#26a69a" stroke-width="0.6"/>
<rect x="348.61" y="245.8" width="1.4" height="0.8" fill="#26a69a"/>
<line x1="350.88" y1="240.8" x2="350.88" y2="249.3" stroke="#26a69a" stroke-width="0.6"/>
<rect x="350.18" y="244.2" width="1.4" height="2.0" fill="#26a69a"/>
<line x1="352.45" y1="241.6" x2="352.45" y2="245.2" stroke="#26a69a" stroke-width="0.6"/>
<rect x="351.75" y="242.8" width="1.4" height="0.8" fill="#26a69a"/>
<line x1="354.02" y1="239.8" x2="354.02" y2="244.1" stroke="#ef5350" stroke-width="0.6"/>
<rect x="353.32" y="242.6" width="1.4" height="0.8" fill="#ef5350"/>
<line x1="355.59" y1="240.7" x2="355.59" y2="244.9" stroke="#26a69a" stroke-width="0.6"/>
<rect x="354.89" y="241.3" width="1.4" height="1.2" fill="#26a69a"/>
<line x1="357.16" y1="239.2" x2="357.16" y2="244.1" stroke="#ef5350" stroke-width="0.6"/>
<rect x="356.46" y="241.8" width="1.4" height="0.8" fill="#ef5350"/>
<line x1="358.74" y1="230.7" x2="358.74" y2="243.6" stroke="#26a69a" stroke-width="0.6"/>
<rect x="358.04" y="233.1" width="1.4" height="9.9" fill="#26a69a"/>
<line x1="360.31" y1="230.8" x2="360.31" y2="233.3" stroke="#26a69a" stroke-width="0.6"/>
<rect x="359.61" y="232.5" width="1.4" height="0.8" fill="#26a69a"/>
<line x1="361.88" y1="222.6" x2="361.88" y2="238.0" stroke="#26a69a" stroke-width="0.6"/>
<rect x="361.18" y="226.2" width="1.4" height="6.4" fill="#26a69a"/>
<line x1="363.45" y1="224.6" x2="363.45" y2="228.7" stroke="#ef5350" stroke-width="0.6"/>
<rect x="362.75" y="226.3" width="1.4" height="0.8" fill="#ef5350"/>
<line x1="365.02" y1="224.3" x2="365.02" y2="229.0" stroke="#ef5350" stroke-width="0.6"/>
<rect x="364.32" y="227.0" width="1.4" height="0.8" fill="#ef5350"/>
<line x1="366.59" y1="224.6" x2="366.59" y2="232.2" stroke="#26a69a" stroke-width="0.6"/>
<rect x="365.89" y="225.4" width="1.4" height="1.8" fill="#26a69a"/>
<line x1="368.17" y1="220.9" x2="368.17" y2="227.9" stroke="#26a69a" stroke-width="0.6"/>
<rect x="367.47" y="224.4" width="1.4" height="0.9" fill="#26a69a"/>
<line x1="369.74" y1="222.1" x2="369.74" y2="226.5" stroke="#26a69a" stroke-width="0.6"/>
<rect x="369.04" y="223.7" width="1.4" height="1.0" fill="#26a69a"/>
<line x1="371.31" y1="221.3" x2="371.31" y2="226.0" stroke="#26a69a" stroke-width="0.6"/>
<rect x="370.61" y="222.9" width="1.4" height="1.3" fill="#26a69a"/>
<line x1="372.88" y1="221.6" x2="372.88" y2="226.2" stroke="#ef5350" stroke-width="0.6"/>
<rect x="372.18" y="222.9" width="1.4" height="1.4" fill="#ef5350"/>
<line x1="374.45" y1="223.0" x2="374.45" y2="228.4" stroke="#ef5350" stroke-width="0.6"/>
<rect x="373.75" y="224.4" width="1.4" height="0.8" fill="#ef5350"/>
<line x1="376.02" y1="221.7" x2="376.02" y2="230.1" stroke="#ef5350" stroke-width="0.6"/>
<rect x="375.32" y="224.8" width="1.4" height="2.7" fill="#ef5350"/>
<line x1="377.60" y1="224.9" x2="377.60" y2="232.6" stroke="#ef5350" stroke-width="0.6"/>
<rect x="376.90" y="227.5" width="1.4" height="1.2" fill="#ef5350"/>
<line x1="379.17" y1="226.0" x2="379.17" y2="236.0" stroke="#ef5350" stroke-width="0.6"/>
<rect x="378.47" y="228.8" width="1.4" height="0.8" fill="#ef5350"/>
<line x1="380.74" y1="227.5" x2="380.74" y2="232.5" stroke="#26a69a" stroke-width="0.6"/>
<rect x="380.04" y="229.7" width="1.4" height="0.8" fill="#26a69a"/>
<line x1="382.31" y1="227.3" x2="382.31" y2="235.5" stroke="#ef5350" stroke-width="0.6"/>
<rect x="381.61" y="228.9" width="1.4" height="4.7" fill="#ef5350"/>
<line x1="383.88" y1="224.5" x2="383.88" y2="234.2" stroke="#26a69a" stroke-width="0.6"/>
<rect x="383.18" y="230.6" width="1.4" height="2.8" fill="#26a69a"/>
<line x1="385.45" y1="220.4" x2="385.45" y2="234.4" stroke="#26a69a" stroke-width="0.6"/>
<rect x="384.75" y="225.4" width="1.4" height="5.5" fill="#26a69a"/>
<line x1="387.03" y1="220.4" x2="387.03" y2="226.2" stroke="#26a69a" stroke-width="0.6"/>
<rect x="386.33" y="224.2" width="1.4" height="1.2" fill="#26a69a"/>
<line x1="388.60" y1="218.0" x2="388.60" y2="226.1" stroke="#26a69a" stroke-width="0.6"/>
<rect x="387.90" y="221.6" width="1.4" height="2.1" fill="#26a69a"/>
<line x1="390.17" y1="218.9" x2="390.17" y2="224.0" stroke="#26a69a" stroke-width="0.6"/>
<rect x="389.47" y="220.7" width="1.4" height="1.1" fill="#26a69a"/>
<line x1="391.74" y1="217.8" x2="391.74" y2="223.2" stroke="#ef5350" stroke-width="0.6"/>
<rect x="391.04" y="220.6" width="1.4" height="0.8" fill="#ef5350"/>
<line x1="393.31" y1="219.2" x2="393.31" y2="227.9" stroke="#ef5350" stroke-width="0.6"/>
<rect x="392.61" y="220.1" width="1.4" height="6.1" fill="#ef5350"/>
<line x1="394.88" y1="224.5" x2="394.88" y2="233.0" stroke="#ef5350" stroke-width="0.6"/>
<rect x="394.18" y="225.9" width="1.4" height="6.5" fill="#ef5350"/>
<line x1="396.46" y1="224.2" x2="396.46" y2="234.8" stroke="#26a69a" stroke-width="0.6"/>
<rect x="395.76" y="227.7" width="1.4" height="4.6" fill="#26a69a"/>
<line x1="398.03" y1="220.3" x2="398.03" y2="229.8" stroke="#26a69a" stroke-width="0.6"/>
<rect x="397.33" y="221.2" width="1.4" height="6.3" fill="#26a69a"/>
<line x1="399.60" y1="210.3" x2="399.60" y2="223.5" stroke="#26a69a" stroke-width="0.6"/>
<rect x="398.90" y="211.6" width="1.4" height="9.9" fill="#26a69a"/>
<line x1="401.17" y1="207.4" x2="401.17" y2="212.7" stroke="#26a69a" stroke-width="0.6"/>
<rect x="400.47" y="210.5" width="1.4" height="1.4" fill="#26a69a"/>
<line x1="402.74" y1="209.1" x2="402.74" y2="216.6" stroke="#26a69a" stroke-width="0.6"/>
<rect x="402.04" y="210.5" width="1.4" height="0.8" fill="#26a69a"/>
<line x1="404.31" y1="210.0" x2="404.31" y2="213.4" stroke="#ef5350" stroke-width="0.6"/>
<rect x="403.61" y="210.6" width="1.4" height="1.6" fill="#ef5350"/>
<line x1="405.89" y1="208.9" x2="405.89" y2="217.2" stroke="#ef5350" stroke-width="0.6"/>
<rect x="405.19" y="212.1" width="1.4" height="2.7" fill="#ef5350"/>
<line x1="407.46" y1="210.5" x2="407.46" y2="216.7" stroke="#26a69a" stroke-width="0.6"/>
<rect x="406.76" y="214.0" width="1.4" height="0.8" fill="#26a69a"/>
<line x1="409.03" y1="204.9" x2="409.03" y2="215.6" stroke="#26a69a" stroke-width="0.6"/>
<rect x="408.33" y="208.0" width="1.4" height="6.2" fill="#26a69a"/>
<line x1="410.60" y1="205.7" x2="410.60" y2="211.6" stroke="#ef5350" stroke-width="0.6"/>
<rect x="409.90" y="208.1" width="1.4" height="2.9" fill="#ef5350"/>
<line x1="412.17" y1="208.4" x2="412.17" y2="214.6" stroke="#ef5350" stroke-width="0.6"/>
<rect x="411.47" y="210.5" width="1.4" height="3.1" fill="#ef5350"/>
<line x1="413.75" y1="211.2" x2="413.75" y2="217.6" stroke="#ef5350" stroke-width="0.6"/>
<rect x="413.05" y="213.7" width="1.4" height="1.5" fill="#ef5350"/>
<line x1="415.32" y1="214.1" x2="415.32" y2="228.7" stroke="#ef5350" stroke-width="0.6"/>
<rect x="414.62" y="215.3" width="1.4" height="12.8" fill="#ef5350"/>
<line x1="416.89" y1="227.1" x2="416.89" y2="244.4" stroke="#ef5350" stroke-width="0.6"/>
<rect x="416.19" y="228.0" width="1.4" height="11.4" fill="#ef5350"/>
<line x1="418.46" y1="236.4" x2="418.46" y2="249.8" stroke="#ef5350" stroke-width="0.6"/>
<rect x="417.76" y="239.4" width="1.4" height="9.8" fill="#ef5350"/>
<line x1="420.03" y1="243.3" x2="420.03" y2="268.2" stroke="#ef5350" stroke-width="0.6"/>
<rect x="419.33" y="249.2" width="1.4" height="11.7" fill="#ef5350"/>
<line x1="421.60" y1="257.3" x2="421.60" y2="275.4" stroke="#ef5350" stroke-width="0.6"/>
<rect x="420.90" y="260.4" width="1.4" height="7.6" fill="#ef5350"/>
<line x1="423.18" y1="258.3" x2="423.18" y2="269.4" stroke="#26a69a" stroke-width="0.6"/>
<rect x="422.48" y="260.1" width="1.4" height="7.9" fill="#26a69a"/>
<line x1="424.75" y1="252.5" x2="424.75" y2="260.9" stroke="#26a69a" stroke-width="0.6"/>
<rect x="424.05" y="255.2" width="1.4" height="4.3" fill="#26a69a"/>
<line x1="426.32" y1="252.8" x2="426.32" y2="261.0" stroke="#ef5350" stroke-width="0.6"/>
<rect x="425.62" y="255.0" width="1.4" height="4.3" fill="#ef5350"/>
<line x1="427.89" y1="252.8" x2="427.89" y2="266.3" stroke="#ef5350" stroke-width="0.6"/>
<rect x="427.19" y="259.1" width="1.4" height="6.6" fill="#ef5350"/>
<line x1="429.46" y1="263.2" x2="429.46" y2="267.8" stroke="#ef5350" stroke-width="0.6"/>
<rect x="428.76" y="266.0" width="1.4" height="1.2" fill="#ef5350"/>
<line x1="431.03" y1="263.5" x2="431.03" y2="274.7" stroke="#ef5350" stroke-width="0.6"/>
<rect x="430.33" y="267.3" width="1.4" height="1.8" fill="#ef5350"/>
<line x1="432.61" y1="263.1" x2="432.61" y2="272.9" stroke="#26a69a" stroke-width="0.6"/>
<rect x="431.91" y="265.8" width="1.4" height="2.6" fill="#26a69a"/>
<line x1="434.18" y1="262.8" x2="434.18" y2="268.4" stroke="#26a69a" stroke-width="0.6"/>
<rect x="433.48" y="264.9" width="1.4" height="1.1" fill="#26a69a"/>
<line x1="435.75" y1="257.8" x2="435.75" y2="267.8" stroke="#26a69a" stroke-width="0.6"/>
<rect x="435.05" y="263.0" width="1.4" height="1.7" fill="#26a69a"/>
<line x1="437.32" y1="258.2" x2="437.32" y2="266.0" stroke="#26a69a" stroke-width="0.6"/>
<rect x="436.62" y="260.5" width="1.4" height="3.1" fill="#26a69a"/>
<line x1="438.89" y1="251.0" x2="438.89" y2="261.0" stroke="#26a69a" stroke-width="0.6"/>
<rect x="438.19" y="255.0" width="1.4" height="5.3" fill="#26a69a"/>
<line x1="440.46" y1="245.4" x2="440.46" y2="256.4" stroke="#26a69a" stroke-width="0.6"/>
<rect x="439.76" y="247.4" width="1.4" height="8.0" fill="#26a69a"/>
<line x1="442.04" y1="242.2" x2="442.04" y2="249.6" stroke="#26a69a" stroke-width="0.6"/>
<rect x="441.34" y="243.5" width="1.4" height="3.8" fill="#26a69a"/>
<line x1="443.61" y1="234.1" x2="443.61" y2="245.3" stroke="#26a69a" stroke-width="0.6"/>
<rect x="442.91" y="237.9" width="1.4" height="4.9" fill="#26a69a"/>
<line x1="445.18" y1="235.6" x2="445.18" y2="238.8" stroke="#26a69a" stroke-width="0.6"/>
<rect x="444.48" y="237.6" width="1.4" height="0.8" fill="#26a69a"/>
<line x1="446.75" y1="228.9" x2="446.75" y2="238.3" stroke="#26a69a" stroke-width="0.6"/>
<rect x="446.05" y="234.9" width="1.4" height="2.5" fill="#26a69a"/>
<line x1="448.32" y1="234.0" x2="448.32" y2="236.0" stroke="#26a69a" stroke-width="0.6"/>
<rect x="447.62" y="234.8" width="1.4" height="0.8" fill="#26a69a"/>
<line x1="449.89" y1="231.4" x2="449.89" y2="236.8" stroke="#26a69a" stroke-width="0.6"/>
<rect x="449.19" y="233.8" width="1.4" height="1.0" fill="#26a69a"/>
<line x1="451.47" y1="228.4" x2="451.47" y2="235.6" stroke="#26a69a" stroke-width="0.6"/>
<rect x="450.77" y="230.4" width="1.4" height="3.8" fill="#26a69a"/>
<line x1="453.04" y1="220.5" x2="453.04" y2="235.2" stroke="#26a69a" stroke-width="0.6"/>
<rect x="452.34" y="225.0" width="1.4" height="5.1" fill="#26a69a"/>
<line x1="454.61" y1="217.6" x2="454.61" y2="227.8" stroke="#26a69a" stroke-width="0.6"/>
<rect x="453.91" y="221.1" width="1.4" height="4.1" fill="#26a69a"/>
<line x1="456.18" y1="215.3" x2="456.18" y2="222.4" stroke="#26a69a" stroke-width="0.6"/>
<rect x="455.48" y="217.4" width="1.4" height="3.3" fill="#26a69a"/>
<line x1="457.75" y1="210.3" x2="457.75" y2="218.9" stroke="#26a69a" stroke-width="0.6"/>
<rect x="457.05" y="213.0" width="1.4" height="4.5" fill="#26a69a"/>
<line x1="459.32" y1="201.8" x2="459.32" y2="214.9" stroke="#26a69a" stroke-width="0.6"/>
<rect x="458.62" y="206.2" width="1.4" height="6.5" fill="#26a69a"/>
<line x1="460.90" y1="199.2" x2="460.90" y2="208.3" stroke="#26a69a" stroke-width="0.6"/>
<rect x="460.20" y="202.7" width="1.4" height="4.1" fill="#26a69a"/>
<line x1="462.47" y1="194.8" x2="462.47" y2="205.0" stroke="#26a69a" stroke-width="0.6"/>
<rect x="461.77" y="199.5" width="1.4" height="3.3" fill="#26a69a"/>
<line x1="464.04" y1="197.7" x2="464.04" y2="205.1" stroke="#ef5350" stroke-width="0.6"/>
<rect x="463.34" y="199.6" width="1.4" height="4.5" fill="#ef5350"/>
<line x1="465.61" y1="200.2" x2="465.61" y2="206.2" stroke="#ef5350" stroke-width="0.6"/>
<rect x="464.91" y="204.4" width="1.4" height="1.1" fill="#ef5350"/>
<line x1="467.18" y1="204.1" x2="467.18" y2="212.0" stroke="#ef5350" stroke-width="0.6"/>
<rect x="466.48" y="205.4" width="1.4" height="4.1" fill="#ef5350"/>
<line x1="468.75" y1="208.3" x2="468.75" y2="221.7" stroke="#ef5350" stroke-width="0.6"/>
<rect x="468.05" y="209.7" width="1.4" height="7.5" fill="#ef5350"/>
<line x1="470.33" y1="216.6" x2="470.33" y2="224.1" stroke="#ef5350" stroke-width="0.6"/>
<rect x="469.63" y="217.2" width="1.4" height="3.4" fill="#ef5350"/>
<line x1="471.90" y1="219.6" x2="471.90" y2="223.6" stroke="#ef5350" stroke-width="0.6"/>
<rect x="471.20" y="220.3" width="1.4" height="1.6" fill="#ef5350"/>
<line x1="473.47" y1="215.6" x2="473.47" y2="226.2" stroke="#26a69a" stroke-width="0.6"/>
<rect x="472.77" y="218.3" width="1.4" height="3.7" fill="#26a69a"/>
<line x1="475.04" y1="212.3" x2="475.04" y2="220.2" stroke="#26a69a" stroke-width="0.6"/>
<rect x="474.34" y="213.3" width="1.4" height="4.4" fill="#26a69a"/>
<line x1="476.61" y1="208.1" x2="476.61" y2="216.7" stroke="#26a69a" stroke-width="0.6"/>
<rect x="475.91" y="209.3" width="1.4" height="3.8" fill="#26a69a"/>
<line x1="478.18" y1="207.1" x2="478.18" y2="210.6" stroke="#26a69a" stroke-width="0.6"/>
<rect x="477.48" y="209.3" width="1.4" height="0.8" fill="#26a69a"/>
<line x1="479.76" y1="208.7" x2="479.76" y2="211.9" stroke="#ef5350" stroke-width="0.6"/>
<rect x="479.06" y="209.3" width="1.4" height="0.8" fill="#ef5350"/>
<line x1="481.33" y1="208.2" x2="481.33" y2="211.6" stroke="#ef5350" stroke-width="0.6"/>
<rect x="480.63" y="208.8" width="1.4" height="0.8" fill="#ef5350"/>
<line x1="482.90" y1="207.7" x2="482.90" y2="214.9" stroke="#ef5350" stroke-width="0.6"/>
<rect x="482.20" y="208.6" width="1.4" height="0.8" fill="#ef5350"/>
<line x1="484.47" y1="199.8" x2="484.47" y2="215.1" stroke="#26a69a" stroke-width="0.6"/>
<rect x="483.77" y="204.0" width="1.4" height="4.4" fill="#26a69a"/>
<line x1="486.04" y1="197.2" x2="486.04" y2="209.5" stroke="#26a69a" stroke-width="0.6"/>
<rect x="485.34" y="199.3" width="1.4" height="4.8" fill="#26a69a"/>
<line x1="487.61" y1="196.1" x2="487.61" y2="201.0" stroke="#26a69a" stroke-width="0.6"/>
<rect x="486.91" y="198.6" width="1.4" height="0.9" fill="#26a69a"/>
<line x1="489.19" y1="193.5" x2="489.19" y2="205.8" stroke="#ef5350" stroke-width="0.6"/>
<rect x="488.49" y="199.0" width="1.4" height="3.6" fill="#ef5350"/>
<line x1="490.76" y1="197.5" x2="490.76" y2="209.4" stroke="#ef5350" stroke-width="0.6"/>
<rect x="490.06" y="202.7" width="1.4" height="2.5" fill="#ef5350"/>
<line x1="492.33" y1="204.1" x2="492.33" y2="209.0" stroke="#ef5350" stroke-width="0.6"/>
<rect x="491.63" y="205.3" width="1.4" height="3.1" fill="#ef5350"/>
<line x1="493.90" y1="206.1" x2="493.90" y2="216.3" stroke="#ef5350" stroke-width="0.6"/>
<rect x="493.20" y="208.0" width="1.4" height="3.7" fill="#ef5350"/>
<line x1="495.47" y1="208.3" x2="495.47" y2="222.2" stroke="#ef5350" stroke-width="0.6"/>
<rect x="494.77" y="211.9" width="1.4" height="6.2" fill="#ef5350"/>
<line x1="497.05" y1="212.2" x2="497.05" y2="223.3" stroke="#ef5350" stroke-width="0.6"/>
<rect x="496.35" y="217.5" width="1.4" height="3.2" fill="#ef5350"/>
<line x1="498.62" y1="218.5" x2="498.62" y2="225.2" stroke="#ef5350" stroke-width="0.6"/>
<rect x="497.92" y="220.3" width="1.4" height="3.3" fill="#ef5350"/>
<line x1="500.19" y1="217.7" x2="500.19" y2="228.1" stroke="#26a69a" stroke-width="0.6"/>
<rect x="499.49" y="220.9" width="1.4" height="2.7" fill="#26a69a"/>
<line x1="501.76" y1="213.1" x2="501.76" y2="222.6" stroke="#26a69a" stroke-width="0.6"/>
<rect x="501.06" y="215.1" width="1.4" height="5.4" fill="#26a69a"/>
<line x1="503.33" y1="213.5" x2="503.33" y2="217.4" stroke="#26a69a" stroke-width="0.6"/>
<rect x="502.63" y="214.1" width="1.4" height="1.1" fill="#26a69a"/>
<line x1="504.90" y1="209.3" x2="504.90" y2="215.1" stroke="#26a69a" stroke-width="0.6"/>
<rect x="504.20" y="211.8" width="1.4" height="2.6" fill="#26a69a"/>
<line x1="506.48" y1="208.6" x2="506.48" y2="214.4" stroke="#26a69a" stroke-width="0.6"/>
<rect x="505.78" y="210.7" width="1.4" height="1.5" fill="#26a69a"/>
<line x1="508.05" y1="208.0" x2="508.05" y2="216.1" stroke="#ef5350" stroke-width="0.6"/>
<rect x="507.35" y="210.6" width="1.4" height="2.1" fill="#ef5350"/>
<line x1="509.62" y1="208.1" x2="509.62" y2="215.4" stroke="#ef5350" stroke-width="0.6"/>
<rect x="508.92" y="212.7" width="1.4" height="0.8" fill="#ef5350"/>
<line x1="511.19" y1="207.2" x2="511.19" y2="214.5" stroke="#26a69a" stroke-width="0.6"/>
<rect x="510.49" y="209.5" width="1.4" height="4.1" fill="#26a69a"/>
<line x1="512.76" y1="208.2" x2="512.76" y2="211.5" stroke="#ef5350" stroke-width="0.6"/>
<rect x="512.06" y="209.4" width="1.4" height="0.8" fill="#ef5350"/>
<line x1="514.33" y1="208.5" x2="514.33" y2="217.8" stroke="#ef5350" stroke-width="0.6"/>
<rect x="513.63" y="209.6" width="1.4" height="0.8" fill="#ef5350"/>
<line x1="515.91" y1="205.0" x2="515.91" y2="212.0" stroke="#ef5350" stroke-width="0.6"/>
<rect x="515.21" y="210.2" width="1.4" height="1.1" fill="#ef5350"/>
<line x1="517.48" y1="207.4" x2="517.48" y2="216.1" stroke="#26a69a" stroke-width="0.6"/>
<rect x="516.78" y="210.7" width="1.4" height="0.9" fill="#26a69a"/>
<line x1="519.05" y1="208.3" x2="519.05" y2="213.7" stroke="#26a69a" stroke-width="0.6"/>
<rect x="518.35" y="209.2" width="1.4" height="2.3" fill="#26a69a"/>
<line x1="520.62" y1="204.6" x2="520.62" y2="211.7" stroke="#26a69a" stroke-width="0.6"/>
<rect x="519.92" y="207.9" width="1.4" height="0.9" fill="#26a69a"/>
<line x1="522.19" y1="206.2" x2="522.19" y2="216.0" stroke="#ef5350" stroke-width="0.6"/>
<rect x="521.49" y="208.2" width="1.4" height="3.0" fill="#ef5350"/>
<line x1="523.76" y1="206.9" x2="523.76" y2="213.0" stroke="#26a69a" stroke-width="0.6"/>
<rect x="523.06" y="209.5" width="1.4" height="1.4" fill="#26a69a"/>
<line x1="525.34" y1="208.5" x2="525.34" y2="212.0" stroke="#ef5350" stroke-width="0.6"/>
<rect x="524.64" y="209.5" width="1.4" height="1.6" fill="#ef5350"/>
<line x1="526.91" y1="208.3" x2="526.91" y2="214.5" stroke="#ef5350" stroke-width="0.6"/>
<rect x="526.21" y="211.3" width="1.4" height="0.9" fill="#ef5350"/>
<line x1="528.48" y1="209.3" x2="528.48" y2="216.0" stroke="#26a69a" stroke-width="0.6"/>
<rect x="527.78" y="210.1" width="1.4" height="2.5" fill="#26a69a"/>
<line x1="530.05" y1="209.4" x2="530.05" y2="214.7" stroke="#ef5350" stroke-width="0.6"/>
<rect x="529.35" y="210.0" width="1.4" height="0.8" fill="#ef5350"/>
<line x1="531.62" y1="207.4" x2="531.62" y2="217.8" stroke="#ef5350" stroke-width="0.6"/>
<rect x="530.92" y="210.7" width="1.4" height="2.4" fill="#ef5350"/>
<line x1="533.19" y1="210.8" x2="533.19" y2="217.9" stroke="#ef5350" stroke-width="0.6"/>
<rect x="532.49" y="212.7" width="1.4" height="2.3" fill="#ef5350"/>
<line x1="534.77" y1="212.0" x2="534.77" y2="223.3" stroke="#ef5350" stroke-width="0.6"/>
<rect x="534.07" y="214.6" width="1.4" height="6.1" fill="#ef5350"/>
<line x1="536.34" y1="219.3" x2="536.34" y2="228.8" stroke="#ef5350" stroke-width="0.6"/>
<rect x="535.64" y="220.6" width="1.4" height="5.7" fill="#ef5350"/>
<line x1="537.91" y1="224.4" x2="537.91" y2="230.6" stroke="#ef5350" stroke-width="0.6"/>
<rect x="537.21" y="225.7" width="1.4" height="3.1" fill="#ef5350"/>
<line x1="539.48" y1="227.0" x2="539.48" y2="231.7" stroke="#ef5350" stroke-width="0.6"/>
<rect x="538.78" y="229.1" width="1.4" height="1.9" fill="#ef5350"/>
<line x1="541.05" y1="226.5" x2="541.05" y2="233.3" stroke="#ef5350" stroke-width="0.6"/>
<rect x="540.35" y="231.1" width="1.4" height="1.0" fill="#ef5350"/>
<line x1="542.62" y1="230.1" x2="542.62" y2="238.6" stroke="#ef5350" stroke-width="0.6"/>
<rect x="541.92" y="232.6" width="1.4" height="3.9" fill="#ef5350"/>
<line x1="544.20" y1="233.4" x2="544.20" y2="239.7" stroke="#26a69a" stroke-width="0.6"/>
<rect x="543.50" y="234.2" width="1.4" height="2.3" fill="#26a69a"/>
<line x1="545.77" y1="228.7" x2="545.77" y2="236.2" stroke="#26a69a" stroke-width="0.6"/>
<rect x="545.07" y="230.6" width="1.4" height="4.0" fill="#26a69a"/>
<line x1="547.34" y1="225.5" x2="547.34" y2="233.8" stroke="#26a69a" stroke-width="0.6"/>
<rect x="546.64" y="229.7" width="1.4" height="0.9" fill="#26a69a"/>
<line x1="548.91" y1="226.9" x2="548.91" y2="232.5" stroke="#ef5350" stroke-width="0.6"/>
<rect x="548.21" y="229.3" width="1.4" height="0.8" fill="#ef5350"/>
<line x1="550.48" y1="226.1" x2="550.48" y2="235.8" stroke="#ef5350" stroke-width="0.6"/>
<rect x="549.78" y="230.1" width="1.4" height="2.8" fill="#ef5350"/>
<line x1="552.05" y1="228.4" x2="552.05" y2="237.2" stroke="#ef5350" stroke-width="0.6"/>
<rect x="551.35" y="232.7" width="1.4" height="2.0" fill="#ef5350"/>
<line x1="553.63" y1="231.6" x2="553.63" y2="240.6" stroke="#26a69a" stroke-width="0.6"/>
<rect x="552.93" y="233.0" width="1.4" height="1.8" fill="#26a69a"/>
<line x1="555.20" y1="229.7" x2="555.20" y2="239.9" stroke="#ef5350" stroke-width="0.6"/>
<rect x="554.50" y="232.6" width="1.4" height="3.7" fill="#ef5350"/>
<line x1="556.77" y1="234.1" x2="556.77" y2="242.0" stroke="#ef5350" stroke-width="0.6"/>
<rect x="556.07" y="236.0" width="1.4" height="2.1" fill="#ef5350"/>
<line x1="558.34" y1="237.0" x2="558.34" y2="247.9" stroke="#ef5350" stroke-width="0.6"/>
<rect x="557.64" y="238.3" width="1.4" height="5.1" fill="#ef5350"/>
<line x1="559.91" y1="240.1" x2="559.91" y2="245.1" stroke="#26a69a" stroke-width="0.6"/>
<rect x="559.21" y="243.2" width="1.4" height="0.8" fill="#26a69a"/>
<line x1="561.48" y1="238.5" x2="561.48" y2="248.8" stroke="#26a69a" stroke-width="0.6"/>
<rect x="560.78" y="241.7" width="1.4" height="1.2" fill="#26a69a"/>
<line x1="563.06" y1="239.3" x2="563.06" y2="245.2" stroke="#26a69a" stroke-width="0.6"/>
<rect x="562.36" y="240.3" width="1.4" height="1.8" fill="#26a69a"/>
<line x1="564.63" y1="229.2" x2="564.63" y2="241.6" stroke="#26a69a" stroke-width="0.6"/>
<rect x="563.93" y="232.9" width="1.4" height="7.5" fill="#26a69a"/>
<line x1="566.20" y1="229.9" x2="566.20" y2="235.3" stroke="#ef5350" stroke-width="0.6"/>
<rect x="565.50" y="233.3" width="1.4" height="0.8" fill="#ef5350"/>
<line x1="567.77" y1="228.6" x2="567.77" y2="235.5" stroke="#26a69a" stroke-width="0.6"/>
<rect x="567.07" y="233.1" width="1.4" height="0.8" fill="#26a69a"/>
<line x1="569.34" y1="224.6" x2="569.34" y2="236.4" stroke="#26a69a" stroke-width="0.6"/>
<rect x="568.64" y="226.6" width="1.4" height="6.5" fill="#26a69a"/>
<line x1="570.91" y1="220.1" x2="570.91" y2="231.3" stroke="#26a69a" stroke-width="0.6"/>
<rect x="570.21" y="221.6" width="1.4" height="5.4" fill="#26a69a"/>
<line x1="572.49" y1="212.8" x2="572.49" y2="227.6" stroke="#26a69a" stroke-width="0.6"/>
<rect x="571.79" y="218.7" width="1.4" height="3.1" fill="#26a69a"/>
<line x1="574.06" y1="216.3" x2="574.06" y2="221.9" stroke="#26a69a" stroke-width="0.6"/>
<rect x="573.36" y="217.2" width="1.4" height="1.6" fill="#26a69a"/>
<line x1="575.63" y1="212.1" x2="575.63" y2="219.7" stroke="#26a69a" stroke-width="0.6"/>
<rect x="574.93" y="216.2" width="1.4" height="1.1" fill="#26a69a"/>
<line x1="577.20" y1="209.4" x2="577.20" y2="221.1" stroke="#26a69a" stroke-width="0.6"/>
<rect x="576.50" y="210.6" width="1.4" height="5.7" fill="#26a69a"/>
<line x1="578.77" y1="209.1" x2="578.77" y2="216.0" stroke="#ef5350" stroke-width="0.6"/>
<rect x="578.07" y="210.5" width="1.4" height="0.8" fill="#ef5350"/>
<line x1="580.35" y1="205.4" x2="580.35" y2="214.8" stroke="#26a69a" stroke-width="0.6"/>
<rect x="579.65" y="209.0" width="1.4" height="2.1" fill="#26a69a"/>
<line x1="581.92" y1="204.8" x2="581.92" y2="211.2" stroke="#ef5350" stroke-width="0.6"/>
<rect x="581.22" y="208.6" width="1.4" height="1.4" fill="#ef5350"/>
<line x1="583.49" y1="207.6" x2="583.49" y2="214.3" stroke="#26a69a" stroke-width="0.6"/>
<rect x="582.79" y="210.3" width="1.4" height="0.8" fill="#26a69a"/>
<line x1="585.06" y1="207.2" x2="585.06" y2="212.2" stroke="#ef5350" stroke-width="0.6"/>
<rect x="584.36" y="209.8" width="1.4" height="1.5" fill="#ef5350"/>
<line x1="586.63" y1="208.4" x2="586.63" y2="213.9" stroke="#26a69a" stroke-width="0.6"/>
<rect x="585.93" y="210.1" width="1.4" height="1.2" fill="#26a69a"/>
<line x1="588.20" y1="208.0" x2="588.20" y2="213.6" stroke="#ef5350" stroke-width="0.6"/>
<rect x="587.50" y="209.9" width="1.4" height="1.8" fill="#ef5350"/>
<line x1="589.78" y1="205.1" x2="589.78" y2="212.3" stroke="#26a69a" stroke-width="0.6"/>
<rect x="589.08" y="209.8" width="1.4" height="2.0" fill="#26a69a"/>
<line x1="591.35" y1="207.0" x2="591.35" y2="213.3" stroke="#26a69a" stroke-width="0.6"/>
<rect x="590.65" y="208.4" width="1.4" height="1.6" fill="#26a69a"/>
<line x1="592.92" y1="203.0" x2="592.92" y2="211.2" stroke="#26a69a" stroke-width="0.6"/>
<rect x="592.22" y="204.8" width="1.4" height="3.8" fill="#26a69a"/>
<line x1="594.49" y1="199.5" x2="594.49" y2="210.6" stroke="#ef5350" stroke-width="0.6"/>
<rect x="593.79" y="204.6" width="1.4" height="3.8" fill="#ef5350"/>
<line x1="596.06" y1="204.5" x2="596.06" y2="213.9" stroke="#ef5350" stroke-width="0.6"/>
<rect x="595.36" y="208.1" width="1.4" height="1.5" fill="#ef5350"/>
<line x1="597.63" y1="200.2" x2="597.63" y2="210.5" stroke="#26a69a" stroke-width="0.6"/>
<rect x="596.93" y="207.1" width="1.4" height="2.5" fill="#26a69a"/>
<line x1="599.21" y1="203.2" x2="599.21" y2="208.2" stroke="#26a69a" stroke-width="0.6"/>
<rect x="598.51" y="204.8" width="1.4" height="2.1" fill="#26a69a"/>
<line x1="600.78" y1="195.9" x2="600.78" y2="212.1" stroke="#26a69a" stroke-width="0.6"/>
<rect x="600.08" y="204.6" width="1.4" height="0.8" fill="#26a69a"/>
<line x1="602.35" y1="195.9" x2="602.35" y2="219.6" stroke="#ef5350" stroke-width="0.6"/>
<rect x="601.65" y="205.1" width="1.4" height="1.9" fill="#ef5350"/>
<line x1="603.92" y1="196.6" x2="603.92" y2="213.5" stroke="#ef5350" stroke-width="0.6"/>
<rect x="603.22" y="206.5" width="1.4" height="1.2" fill="#ef5350"/>
<line x1="605.49" y1="198.7" x2="605.49" y2="211.8" stroke="#26a69a" stroke-width="0.6"/>
<rect x="604.79" y="201.4" width="1.4" height="6.5" fill="#26a69a"/>
<line x1="607.06" y1="187.7" x2="607.06" y2="202.5" stroke="#26a69a" stroke-width="0.6"/>
<rect x="606.36" y="195.4" width="1.4" height="6.0" fill="#26a69a"/>
<line x1="608.64" y1="171.6" x2="608.64" y2="197.3" stroke="#26a69a" stroke-width="0.6"/>
<rect x="607.94" y="183.4" width="1.4" height="11.9" fill="#26a69a"/>
<line x1="610.21" y1="168.8" x2="610.21" y2="185.8" stroke="#26a69a" stroke-width="0.6"/>
<rect x="609.51" y="173.2" width="1.4" height="9.7" fill="#26a69a"/>
<line x1="611.78" y1="150.7" x2="611.78" y2="184.5" stroke="#26a69a" stroke-width="0.6"/>
<rect x="611.08" y="159.4" width="1.4" height="13.4" fill="#26a69a"/>
<line x1="613.35" y1="138.3" x2="613.35" y2="161.7" stroke="#26a69a" stroke-width="0.6"/>
<rect x="612.65" y="142.8" width="1.4" height="17.3" fill="#26a69a"/>
<line x1="614.92" y1="122.9" x2="614.92" y2="151.5" stroke="#26a69a" stroke-width="0.6"/>
<rect x="614.22" y="129.9" width="1.4" height="12.5" fill="#26a69a"/>
<line x1="616.49" y1="106.3" x2="616.49" y2="136.0" stroke="#26a69a" stroke-width="0.6"/>
<rect x="615.79" y="113.1" width="1.4" height="16.8" fill="#26a69a"/>
<line x1="618.07" y1="107.1" x2="618.07" y2="119.9" stroke="#ef5350" stroke-width="0.6"/>
<rect x="617.37" y="112.8" width="1.4" height="4.1" fill="#ef5350"/>
<line x1="619.64" y1="111.7" x2="619.64" y2="131.3" stroke="#ef5350" stroke-width="0.6"/>
<rect x="618.94" y="116.9" width="1.4" height="6.3" fill="#ef5350"/>
<line x1="621.21" y1="112.3" x2="621.21" y2="135.4" stroke="#ef5350" stroke-width="0.6"/>
<rect x="620.51" y="123.6" width="1.4" height="6.0" fill="#ef5350"/>
<line x1="622.78" y1="115.9" x2="622.78" y2="130.6" stroke="#26a69a" stroke-width="0.6"/>
<rect x="622.08" y="121.8" width="1.4" height="7.5" fill="#26a69a"/>
<line x1="624.35" y1="112.8" x2="624.35" y2="135.1" stroke="#ef5350" stroke-width="0.6"/>
<rect x="623.65" y="121.6" width="1.4" height="5.5" fill="#ef5350"/>
<line x1="625.92" y1="123.7" x2="625.92" y2="136.0" stroke="#ef5350" stroke-width="0.6"/>
<rect x="625.22" y="126.8" width="1.4" height="2.3" fill="#ef5350"/>
<line x1="627.50" y1="121.4" x2="627.50" y2="131.7" stroke="#26a69a" stroke-width="0.6"/>
<rect x="626.80" y="122.5" width="1.4" height="6.2" fill="#26a69a"/>
<line x1="629.07" y1="112.1" x2="629.07" y2="132.3" stroke="#26a69a" stroke-width="0.6"/>
<rect x="628.37" y="117.9" width="1.4" height="4.0" fill="#26a69a"/>
<line x1="630.64" y1="114.0" x2="630.64" y2="125.7" stroke="#26a69a" stroke-width="0.6"/>
<rect x="629.94" y="117.6" width="1.4" height="0.8" fill="#26a69a"/>
<line x1="632.21" y1="109.3" x2="632.21" y2="119.3" stroke="#26a69a" stroke-width="0.6"/>
<rect x="631.51" y="115.4" width="1.4" height="1.6" fill="#26a69a"/>
<line x1="633.78" y1="103.9" x2="633.78" y2="117.4" stroke="#26a69a" stroke-width="0.6"/>
<rect x="633.08" y="111.8" width="1.4" height="3.3" fill="#26a69a"/>
<line x1="635.35" y1="97.3" x2="635.35" y2="113.5" stroke="#26a69a" stroke-width="0.6"/>
<rect x="634.65" y="102.7" width="1.4" height="8.7" fill="#26a69a"/>
<line x1="636.93" y1="89.5" x2="636.93" y2="103.6" stroke="#26a69a" stroke-width="0.6"/>
<rect x="636.23" y="97.9" width="1.4" height="4.6" fill="#26a69a"/>
<line x1="638.50" y1="92.8" x2="638.50" y2="105.2" stroke="#ef5350" stroke-width="0.6"/>
<rect x="637.80" y="98.4" width="1.4" height="2.8" fill="#ef5350"/>
<line x1="640.07" y1="92.1" x2="640.07" y2="111.7" stroke="#ef5350" stroke-width="0.6"/>
<rect x="639.37" y="101.0" width="1.4" height="5.8" fill="#ef5350"/>
<line x1="641.64" y1="100.2" x2="641.64" y2="115.6" stroke="#ef5350" stroke-width="0.6"/>
<rect x="640.94" y="106.3" width="1.4" height="2.0" fill="#ef5350"/>
<line x1="643.21" y1="100.7" x2="643.21" y2="116.4" stroke="#26a69a" stroke-width="0.6"/>
<rect x="642.51" y="101.5" width="1.4" height="7.0" fill="#26a69a"/>
<line x1="644.78" y1="97.6" x2="644.78" y2="111.5" stroke="#ef5350" stroke-width="0.6"/>
<rect x="644.08" y="101.5" width="1.4" height="1.0" fill="#ef5350"/>
<line x1="646.36" y1="96.5" x2="646.36" y2="108.5" stroke="#26a69a" stroke-width="0.6"/>
<rect x="645.66" y="102.3" width="1.4" height="0.8" fill="#26a69a"/>
<line x1="647.93" y1="94.3" x2="647.93" y2="112.1" stroke="#26a69a" stroke-width="0.6"/>
<rect x="647.23" y="102.3" width="1.4" height="0.8" fill="#26a69a"/>
<line x1="649.50" y1="89.9" x2="649.50" y2="114.2" stroke="#ef5350" stroke-width="0.6"/>
<rect x="648.80" y="102.1" width="1.4" height="5.6" fill="#ef5350"/>
</svg>
<!-- right sidebar -->
<div class="a" style="left:778px;top:33px;width:22px;height:448px;background:#fff;border-left:1px solid #e0e3eb"></div>
<!-- bottom bars -->
<div class="a" style="left:26px;top:441px;width:752px;height:20px;background:#fff;border-bottom:1px solid #e0e3eb"></div>
<div class="a" style="left:26px;top:461px;width:752px;height:20px;background:#fff"></div>
<!-- bottom bar 1 -->
<div class="a cjk" style="left:34px;top:445.3px;font-size:6.8px;line-height:10px;color:#131722;word-spacing:0">
<span style="position:absolute;left:0">1天</span><span style="position:absolute;left:17.5px">5天</span><span style="position:absolute;left:34.5px">1个月</span><span style="position:absolute;left:57.5px">3个月</span><span style="position:absolute;left:80.5px">6个月</span><span style="position:absolute;left:104.5px;font-family:'Liberation Sans',sans-serif">YTD</span><span style="position:absolute;left:123.5px">1年</span><span style="position:absolute;left:139.5px">5年</span><span style="position:absolute;left:156.5px">全部</span></div>
<div class="a" style="left:211px;top:445px;width:0.8px;height:12px;background:#e0e3eb"></div>
<svg class="a" style="left:219.5px;top:446.5px" width="10" height="9" viewBox="0 0 10 9"><path d="M1 1h7v4.5M6.5 4l1.5 1.5L9.5 4M2.5 3.5v4.5h6" fill="none" stroke="#131722" stroke-width="0.8"/><path d="M1 2.5L2.5 1" stroke="#131722" stroke-width="0.8"/></svg>
<div class="a" style="left:664.5px;top:447.5px;font-size:6.3px;line-height:8px;color:#131722">03:08:48 (UTC+8)</div>
<div class="a" style="left:729px;top:447.5px;font-size:6.3px;line-height:8px;color:#131722">%</div>
<div class="a" style="left:741.5px;top:447.5px;font-size:6.3px;line-height:8px;color:#131722">log</div>
<div class="a" style="left:757.5px;top:447.5px;font-size:6.3px;line-height:8px;color:#2196f3">auto</div>
<!-- bottom bar 2 -->
<div class="a cjk" style="left:34px;top:467px;font-size:6.8px;line-height:10px;color:#131722">股票筛选器</div>
<div class="a" style="left:71.5px;top:467.5px;font-size:6px;line-height:9px;color:#787b86">⌄</div>
<div class="a" style="left:79.5px;top:465px;width:0.8px;height:12px;background:#e0e3eb"></div>
<div class="a cjk" style="left:86px;top:467px;font-size:6.8px;line-height:10px;color:#131722">文本笔记</div>
<div class="a" style="left:120.5px;top:465px;width:0.8px;height:12px;background:#e0e3eb"></div>
<div class="a" style="left:129px;top:467px;font-size:6.8px;line-height:10px;color:#131722">Pine<span class="cjk">编辑器</span></div>
<div class="a" style="left:170px;top:465px;width:0.8px;height:12px;background:#e0e3eb"></div>
<div class="a cjk" style="left:177px;top:467px;font-size:6.8px;line-height:10px;color:#131722">策略测试器</div>
<div class="a" style="left:219px;top:465px;width:0.8px;height:12px;background:#e0e3eb"></div>
<div class="a cjk" style="left:227px;top:467px;font-size:6.8px;line-height:10px;color:#131722">交易面板</div>
<div class="a" style="left:261.5px;top:465px;width:0.8px;height:12px;background:#e0e3eb"></div>
<svg class="a" style="left:743px;top:468px" width="9" height="6" viewBox="0 0 9 6"><path d="M1 5l3.5-3.5L8 5" fill="none" stroke="#131722" stroke-width="0.9"/></svg>
<svg class="a" style="left:759px;top:466px" width="11" height="10" viewBox="0 0 11 10"><rect x="0.8" y="0.8" width="9.4" height="8.4" rx="1.5" fill="none" stroke="#131722" stroke-width="0.8"/><path d="M0.8 3h9.4" stroke="#131722" stroke-width="0.8"/></svg>
<!-- sogou IME -->
<div class="a" style="left:669px;top:451.5px;width:87px;height:11px;background:#fff;border:0.6px solid #c9d8ee"></div>
<div class="a" style="left:659px;top:450.5px;width:12px;height:12px;border-radius:3px;background:#f25a24;color:#fff;font-weight:bold;font-size:10px;line-height:12px;text-align:center;font-style:italic">S</div>
<div class="a cjk" style="left:674px;top:452px;font-size:7.5px;line-height:9px;color:#1f6fd0;font-weight:bold">中</div>
<div class="a" style="left:685px;top:451px;font-size:7px;line-height:9px;color:#1f6fd0">°,</div>
<svg class="a" style="left:693.5px;top:452.5px" width="9" height="9" viewBox="0 0 9 9"><circle cx="4.5" cy="4.5" r="3.8" fill="none" stroke="#1f6fd0" stroke-width="0.8"/><circle cx="3.2" cy="3.8" r="0.5" fill="#1f6fd0"/><circle cx="5.8" cy="3.8" r="0.5" fill="#1f6fd0"/><path d="M3 5.5a1.8 1.8 0 0 0 3 0" fill="none" stroke="#1f6fd0" stroke-width="0.6"/></svg>
<svg class="a" style="left:706px;top:452.5px" width="6" height="9" viewBox="0 0 6 9"><rect x="1.7" y="0.5" width="2.6" height="5" rx="1.3" fill="#1f6fd0"/><path d="M0.8 4a2.2 2.2 0 0 0 4.4 0M3 6.5v2" fill="none" stroke="#1f6fd0" stroke-width="0.6"/></svg>
<div class="a" style="left:714.5px;top:454px;width:9px;height:6px;border:0.8px solid #1f6fd0;border-radius:1px;background:#d7e6fa"></div>
<svg class="a" style="left:727px;top:452.5px" width="8" height="9" viewBox="0 0 8 9"><circle cx="4" cy="2.8" r="1.8" fill="#b9bfc9"/><path d="M0.8 8.5a3.2 3 0 0 1 6.4 0z" fill="#b9bfc9"/></svg>
<svg class="a" style="left:736.5px;top:452.5px" width="8" height="9" viewBox="0 0 8 9"><path d="M0.5 2l2-1.5h3l2 1.5-1.2 1.5-0.8-0.5V8.5h-4V3l-0.8 0.5z" fill="#1f6fd0"/></svg>
<svg class="a" style="left:746.5px;top:452.5px" width="8" height="8" viewBox="0 0 8 8"><rect x="0.5" y="0.5" width="3" height="3" fill="#1f6fd0"/><rect x="4.5" y="0.5" width="3" height="3" fill="#1f6fd0"/><rect x="0.5" y="4.5" width="3" height="3" fill="#1f6fd0"/><rect x="4.5" y="4.5" width="3" height="3" fill="#5c9be8"/></svg>

<!-- taskbar -->
<div class="a" style="left:0;top:481px;width:800px;height:19px;background:#21303e"></div>
<!-- left toolbar icons -->
<svg class="a" style="left:6px;top:58px" width="13" height="13" viewBox="0 0 13 13"><path d="M6.5 0.5v4M6.5 8.5v4M0.5 6.5h4M8.5 6.5h4" stroke="#b2b5be" stroke-width="0.9"/></svg>
<svg class="a" style="left:6.5px;top:74.5px" width="12" height="12" viewBox="0 0 12 12"><path d="M2 10L10 2" stroke="#131722" stroke-width="0.9"/><circle cx="1.8" cy="10.2" r="1.2" fill="#fff" stroke="#131722" stroke-width="0.8"/><circle cx="10.2" cy="1.8" r="1.2" fill="#fff" stroke="#131722" stroke-width="0.8"/></svg>
<svg class="a" style="left:8px;top:91px" width="10" height="6" viewBox="0 0 10 6"><path d="M1 5.5L6 0.5" stroke="#131722" stroke-width="0.9"/></svg>
<!-- BrushTool panel -->
<div class="a" style="left:1px;top:96.5px;width:41.5px;height:12px;background:#fff;border:0.5px solid #ccc"></div>
<div class="a" style="left:3px;top:98.5px;font-size:6.3px;line-height:8px;color:#555;transform:scaleY(1.15);transform-origin:0 50%">BrushTool</div>
<div class="a" style="left:33px;top:97.8px;width:8.5px;height:9.3px;background:#d64553;color:#fff;font-size:6px;line-height:9px;text-align:center">×</div>
<div class="a" style="left:1px;top:108.5px;width:40px;height:125.5px;background:#3b3b3b"></div>
<div class="a" style="left:1.5px;top:145.5px;width:12px;height:12px;background:#555"></div>
<div class="a" style="left:1.5px;top:195.5px;width:12px;height:12px;background:#555"></div>
<svg class="a" style="left:2px;top:109px" width="10" height="10" viewBox="-5 -5 10 10"><path d="M-3.5 3.5v-5h3l1 1h3.5v4z" fill="none" stroke="#d8d8d8" stroke-width="0.7"/><path d="M0.5 -3.5l3-0.5" stroke="#d8d8d8" stroke-width="0.7"/></svg>
<svg class="a" style="left:15.5px;top:109px" width="10" height="10" viewBox="-5 -5 10 10"><rect x="-3.5" y="-3.5" width="7" height="7" fill="none" stroke="#d8d8d8" stroke-width="0.7"/><rect x="-2" y="-3.5" width="4" height="2.5" fill="none" stroke="#d8d8d8" stroke-width="0.6"/><rect x="-2" y="0.8" width="4" height="2.7" fill="#d8d8d8"/></svg>
<svg class="a" style="left:28.5px;top:109px" width="10" height="10" viewBox="-5 -5 10 10"><rect x="-3.5" y="-3.5" width="7" height="7" fill="none" stroke="#d8d8d8" stroke-width="0.7"/><path d="M-2 0h3M-2 1.8h2" stroke="#d8d8d8" stroke-width="0.6"/><rect x="1" y="-3" width="2.5" height="2.5" fill="#d8d8d8"/></svg>
<svg class="a" style="left:2px;top:121.5px" width="10" height="10" viewBox="-5 -5 10 10"><path d="M-3 -3.5h4l2 2v5h-6z" fill="none" stroke="#d8d8d8" stroke-width="0.7"/><rect x="-2.5" y="-1" width="2" height="4" fill="#d8d8d8"/></svg>
<svg class="a" style="left:15.5px;top:121.5px" width="10" height="10" viewBox="-5 -5 10 10"><path d="M-3.5 -3.5h4l2 2v3h-6z" fill="none" stroke="#d8d8d8" stroke-width="0.7"/><path d="M-1.5 -1.5h4l2 2v3h-6z" fill="#3b3b3b" stroke="#d8d8d8" stroke-width="0.7"/></svg>
<svg class="a" style="left:28.5px;top:121.5px" width="10" height="10" viewBox="-5 -5 10 10"><rect x="-3.5" y="-2.5" width="7" height="5" fill="none" stroke="#888" stroke-width="0.6"/></svg>
<svg class="a" style="left:2px;top:134px" width="10" height="10" viewBox="-5 -5 10 10"><path d="M-3.5 1l3-3.5 4 2.5-3 3.5z" fill="none" stroke="#d8d8d8" stroke-width="0.7"/><path d="M-2 -0.5l4 2.5" stroke="#d8d8d8" stroke-width="0.6"/></svg>
<svg class="a" style="left:15.5px;top:134px" width="10" height="10" viewBox="-5 -5 10 10"><path d="M-3 3.5l4-4M0 -2l2-2 2 2-2 2z" fill="none" stroke="#d8d8d8" stroke-width="0.8"/></svg>
<svg class="a" style="left:28.5px;top:134px" width="10" height="10" viewBox="-5 -5 10 10"><path d="M-3 0l3-3.5 3.5 3-3 3.5z" fill="none" stroke="#d8d8d8" stroke-width="0.7"/><path d="M2.5 1.5l1 2" stroke="#d8d8d8" stroke-width="0.8"/></svg>
<svg class="a" style="left:2px;top:146.5px" width="10" height="10" viewBox="-5 -5 10 10"><path d="M-3.5 3.5l1-3 5-5 2 2-5 5z" fill="none" stroke="#d8d8d8" stroke-width="0.7"/></svg>
<svg class="a" style="left:15.5px;top:146.5px" width="10" height="10" viewBox="-5 -5 10 10"><path d="M-3.5 -3.5l7 7" stroke="#d8d8d8" stroke-width="0.8"/></svg>
<svg class="a" style="left:28.5px;top:146.5px" width="10" height="10" viewBox="-5 -5 10 10"><path d="M-3 3.5l5-5M0 -3.5l3.5 3.5M1 -3l2 2" stroke="#d8d8d8" stroke-width="0.8"/></svg>
<svg class="a" style="left:2px;top:159px" width="10" height="10" viewBox="-5 -5 10 10"><rect x="-4" y="-2.5" width="8" height="5" fill="none" stroke="#d8d8d8" stroke-width="0.7"/></svg>
<svg class="a" style="left:15.5px;top:159px" width="10" height="10" viewBox="-5 -5 10 10"><ellipse cx="0" cy="0" rx="4" ry="2.6" fill="none" stroke="#d8d8d8" stroke-width="0.7"/></svg>
<svg class="a" style="left:28.5px;top:159px" width="10" height="10" viewBox="-5 -5 10 10"><rect x="-4" y="-2.5" width="8" height="5" fill="#d8d8d8"/></svg>
<svg class="a" style="left:2px;top:171.5px" width="10" height="10" viewBox="-5 -5 10 10"><ellipse cx="0" cy="0" rx="4" ry="2.6" fill="#d8d8d8"/></svg>
<svg class="a" style="left:15.5px;top:171.5px" width="10" height="10" viewBox="-5 -5 10 10"><path d="M-3 3.5L0 -3.5 3 3.5M-1.8 1h3.6" fill="none" stroke="#d8d8d8" stroke-width="0.7"/></svg>
<svg class="a" style="left:28.5px;top:171.5px" width="10" height="10" viewBox="-5 -5 10 10"><path d="M-4 3l2-5 2 4 2-4 2 5" fill="none" stroke="#d8d8d8" stroke-width="0.7"/></svg>
<svg class="a" style="left:2px;top:184px" width="10" height="10" viewBox="-5 -5 10 10"><path d="M-2.5 -2.5A3.5 3.5 0 1 1 -3.2 1.5" fill="none" stroke="#d8d8d8" stroke-width="0.7"/><path d="M-3.5 -3.5v2h2" fill="none" stroke="#d8d8d8" stroke-width="0.7"/></svg>
<svg class="a" style="left:15.5px;top:184px" width="10" height="10" viewBox="-5 -5 10 10"><rect x="-3.5" y="-3.5" width="7" height="7" rx="1" fill="none" stroke="#d8d8d8" stroke-width="0.7"/><path d="M0 -3.5v7M-3.5 0h7" stroke="#d8d8d8" stroke-width="0.7"/></svg>
<svg class="a" style="left:28.5px;top:184px" width="10" height="10" viewBox="-5 -5 10 10"><circle cx="-0.8" cy="-0.8" r="2.6" fill="none" stroke="#d8d8d8" stroke-width="0.7"/><path d="M1.2 1.2l2.5 2.5" stroke="#d8d8d8" stroke-width="0.9"/></svg>
<svg class="a" style="left:2px;top:196.5px" width="10" height="10" viewBox="-5 -5 10 10"><path d="M-3.5 3.5l2.5-6 1.5 1.5-2.5 2.5zM0 -1.5l3.5 5" fill="none" stroke="#d8d8d8" stroke-width="0.7"/></svg>
<svg class="a" style="left:15.5px;top:196.5px" width="10" height="10" viewBox="-5 -5 10 10"><path d="M-3 -3.5l2 7 1-3 3-1z" fill="none" stroke="#d8d8d8" stroke-width="0.7"/><path d="M0.5 0.5l3 3" stroke="#d8d8d8" stroke-width="0.7"/></svg>
<svg class="a" style="left:28.5px;top:196.5px" width="10" height="10" viewBox="-5 -5 10 10"><circle cx="0" cy="-1.5" r="2" fill="#d8d8d8"/><path d="M0 0.5v3.5" stroke="#d8d8d8" stroke-width="0.9"/></svg>
<div class="a" style="left:2.5px;top:209.8px;width:17px;height:11px;background:#fff"></div>
<div class="a" style="left:5px;top:211.5px;font-size:6px;color:#444">4</div>
<div class="a" style="left:13.5px;top:211.8px;font-size:5px;color:#000">▼</div>
<div class="a" style="left:22.8px;top:209.8px;width:18px;height:11px;background:#fff"></div>
<div class="a" style="left:24.7px;top:211.5px;width:6.5px;height:7.5px;background:#f00"></div>
<div class="a" style="left:33.5px;top:211.8px;font-size:5px;color:#000">▼</div>
<div class="a" style="left:2px;top:224px;font-size:6.3px;line-height:7px;color:#c8c8c8">x:1318 y:266</div>
<!-- lower left icons -->
<svg class="a" style="left:7.5px;top:242px" width="10" height="10" viewBox="0 0 10 10"><path d="M1.5 9.5V5a3.5 3.5 0 0 1 7 0v4.5M1.5 7.5h2M6.5 7.5h2M3.5 9.5V5a1.5 1.5 0 0 1 3 0v4.5" fill="none" stroke="#131722" stroke-width="0.8"/></svg>
<svg class="a" style="left:7px;top:259px" width="11" height="11" viewBox="0 0 11 11"><path d="M1 8l5-5 1.6 1.6-5 5H1z" fill="none" stroke="#131722" stroke-width="0.8"/><rect x="6.5" y="7.5" width="4" height="3" fill="none" stroke="#131722" stroke-width="0.7"/><path d="M7.3 7.5V6.6a1.2 1.2 0 0 1 2.4 0" fill="none" stroke="#131722" stroke-width="0.7"/></svg>
<svg class="a" style="left:8px;top:275.5px" width="9" height="11" viewBox="0 0 9 11"><rect x="0.6" y="4.8" width="7.8" height="5.6" fill="none" stroke="#131722" stroke-width="0.8"/><path d="M2.2 4.8V3a2.3 2.3 0 0 1 4.5-0.5" fill="none" stroke="#131722" stroke-width="0.8"/><rect x="4" y="7" width="1" height="1.5" fill="#131722"/></svg>
<div class="a" style="left:5.5px;top:292px;width:14px;height:14px;background:#2196f3;border-radius:1px"></div>
<svg class="a" style="left:6.5px;top:293px" width="12" height="12" viewBox="0 0 12 12"><path d="M1.5 6c2-3 7-3 9 0-2 3-7 3-9 0z" fill="none" stroke="#fff" stroke-width="0.8"/><circle cx="6" cy="6" r="1.3" fill="none" stroke="#fff" stroke-width="0.8"/><path d="M2 10L10 2" stroke="#fff" stroke-width="0.8"/></svg>
<svg class="a" style="left:8.5px;top:316px" width="8" height="11" viewBox="0 0 8 11"><path d="M0.5 2.5h7M2.8 2.5V1h2.4v1.5M1.3 2.5l0.5 8h4.4l0.5-8" fill="none" stroke="#131722" stroke-width="0.8"/><path d="M2 5h4M2 7h4" stroke="#131722" stroke-width="0.5"/></svg>
<div class="a cjk" style="left:30.5px;top:55.5px;font-size:7.5px;line-height:9px;color:#d1d4dc">比特币/美元</div>
<div class="a" style="left:78.5px;top:56px;font-size:7.5px;line-height:9px;color:#d1d4dc">4h</div>
<div class="a" style="left:92.7px;top:56px;font-size:7.5px;line-height:9px;color:#d1d4dc;transform:scaleX(0.885);transform-origin:0 0">BITSTAMP</div>
<div class="a" style="left:132.7px;top:57.5px;width:6px;height:6px;border-radius:50%;background:#1f6b55"></div>
<div class="a" style="left:134.2px;top:59px;width:3px;height:3px;border-radius:50%;background:#3fd6a2"></div>
<div class="a" style="left:145.5px;top:56.8px;font-size:6.2px;line-height:8px;color:#ef5350"><span class="cjk" style="color:#d1d4dc">开</span>=23968.38 <span class="cjk" style="color:#d1d4dc">高</span>=24298.04 <span class="cjk" style="color:#d1d4dc">低</span>=23100.22 <span class="cjk" style="color:#d1d4dc">收</span>=23569.59 −389.77 (−1.63%)</div>
<div class="a" style="left:30.5px;top:67px;width:32.2px;height:12px;border:1px solid #6b2f36;border-radius:1.5px;color:#a8434a;font-size:6.2px;line-height:10px;text-align:center">23554.35</div>
<div class="a" style="left:66.5px;top:68.5px;font-size:6.4px;line-height:8px;color:#d1d4dc">20.34</div>
<div class="a" style="left:85.2px;top:67px;width:32.3px;height:12px;border:1px solid #2a4272;border-radius:1.5px;color:#4467a8;font-size:6.2px;line-height:10px;text-align:center">23574.69</div>
<div class="a" style="left:31px;top:82px;font-size:6.6px;line-height:8px;color:#d1d4dc">Vol</div>
<div class="a" style="left:43px;top:82px;font-size:6.4px;line-height:8px;color:#8a3c44">1.632K</div>
<div class="a" style="left:744.3px;top:52.5px;width:0.9px;height:388.5px;background:#434651"></div>
<div class="a" style="left:756px;top:57px;font-size:4.9px;line-height:6px;color:#b2b5be">USD</div>
<div class="a" style="left:749px;top:422.8px;font-size:5.7px;line-height:7px;color:#b2b5be">10000.00</div>
<div class="a" style="left:749px;top:399.3px;font-size:5.7px;line-height:7px;color:#b2b5be">11000.00</div>
<div class="a" style="left:749px;top:375.8px;font-size:5.7px;line-height:7px;color:#b2b5be">12000.00</div>
<div class="a" style="left:749px;top:352.3px;font-size:5.7px;line-height:7px;color:#b2b5be">13000.00</div>
<div class="a" style="left:749px;top:328.8px;font-size:5.7px;line-height:7px;color:#b2b5be">14000.00</div>
<div class="a" style="left:749px;top:305.3px;font-size:5.7px;line-height:7px;color:#b2b5be">15000.00</div>
<div class="a" style="left:749px;top:281.8px;font-size:5.7px;line-height:7px;color:#b2b5be">16000.00</div>
<div class="a" style="left:749px;top:258.3px;font-size:5.7px;line-height:7px;color:#b2b5be">17000.00</div>
<div class="a" style="left:749px;top:234.8px;font-size:5.7px;line-height:7px;color:#b2b5be">18000.00</div>
<div class="a" style="left:749px;top:211.3px;font-size:5.7px;line-height:7px;color:#b2b5be">19000.00</div>
<div class="a" style="left:749px;top:187.8px;font-size:5.7px;line-height:7px;color:#b2b5be">20000.00</div>
<div class="a" style="left:749px;top:164.3px;font-size:5.7px;line-height:7px;color:#b2b5be">21000.00</div>
<div class="a" style="left:749px;top:140.8px;font-size:5.7px;line-height:7px;color:#b2b5be">22000.00</div>
<div class="a" style="left:749px;top:117.3px;font-size:5.7px;line-height:7px;color:#b2b5be">23000.00</div>
<div class="a" style="left:749px;top:93.8px;font-size:5.7px;line-height:7px;color:#b2b5be">24000.00</div>
<div class="a" style="left:745.3px;top:103px;width:30.5px;height:9.4px;background:#ef5350;color:#fff;font-size:5.7px;line-height:9.4px;padding-left:3.5px">23569.59</div>
<div class="a" style="left:756px;top:112.2px;width:19.8px;height:8.6px;background:#ef5350;color:#fff;font-size:5.7px;line-height:8.6px;padding-left:3.5px">51:12</div>
<svg class="a" style="left:0;top:0" width="800" height="500"><line x1="26.5" y1="350.4" x2="735" y2="350.4" stroke="#758696" stroke-width="0.8" stroke-dasharray="2.5 2.5"/><line x1="675.7" y1="52.5" x2="675.7" y2="429" stroke="#758696" stroke-width="0.8" stroke-dasharray="2.5 2.5"/></svg>
<div class="a" style="left:734.5px;top:345.5px;width:10.5px;height:9.5px;background:#363a45;color:#d1d4dc;font-size:8px;line-height:9px;text-align:center">+</div>
<div class="a" style="left:745px;top:345.5px;width:31px;height:9.5px;background:#363a45;color:#e0e3eb;font-size:5.7px;line-height:9.5px;padding-left:3.5px">13241.25</div>
<div class="a" style="left:26.5px;top:428.5px;width:718px;height:0.8px;background:#434651"></div>
<div class="a" style="left:40px;width:30px;text-align:center;top:431.5px;font-size:5.9px;line-height:7px;color:#b2b5be">19</div>
<div class="a" style="left:106.5px;width:30px;text-align:center;top:431.5px;font-size:5.9px;line-height:7px;color:#b2b5be">26</div>
<div class="a cjk" style="left:163px;width:30px;text-align:center;top:431.5px;font-size:5.9px;line-height:7px;color:#b2b5be">11月</div>
<div class="a" style="left:237.5px;width:30px;text-align:center;top:431.5px;font-size:5.9px;line-height:7px;color:#b2b5be">9</div>
<div class="a" style="left:303.5px;width:30px;text-align:center;top:431.5px;font-size:5.9px;line-height:7px;color:#b2b5be">16</div>
<div class="a" style="left:369px;width:30px;text-align:center;top:431.5px;font-size:5.9px;line-height:7px;color:#b2b5be">23</div>
<div class="a cjk" style="left:444px;width:30px;text-align:center;top:431.5px;font-size:5.9px;line-height:7px;color:#b2b5be">12月</div>
<div class="a" style="left:501px;width:30px;text-align:center;top:431.5px;font-size:5.9px;line-height:7px;color:#b2b5be">7</div>
<div class="a" style="left:566.5px;width:30px;text-align:center;top:431.5px;font-size:5.9px;line-height:7px;color:#b2b5be">14</div>
<div class="a" style="left:631px;width:30px;text-align:center;top:431.5px;font-size:5.9px;line-height:7px;color:#b2b5be">21</div>
<div class="a" style="left:648.7px;top:428.8px;width:54px;height:10.6px;background:#363a45;color:#e0e3eb;font-size:5.8px;line-height:10.5px;padding-left:3.5px">2020-12-24 &nbsp;00:00</div>
<svg class="a" style="left:755.5px;top:431px" width="8" height="8" viewBox="0 0 8 8"><circle cx="4" cy="4" r="3" fill="none" stroke="#787b86" stroke-width="0.7"/></svg>
<div class="a" style="left:31px;top:412px;width:13px;height:13px;border-radius:50%;background:#1c3a62"></div>
<svg class="a" style="left:32px;top:414px" width="11" height="9" viewBox="0 0 11 9"><path d="M2.5 7.5h6a2 2 0 0 0 0-4 3 3 0 0 0-5.6-0.8A2.3 2.3 0 0 0 2.5 7.5z" fill="none" stroke="#4ba3f5" stroke-width="0.9"/><path d="M3 6l1.5-1.5 1.5 1 1.5-1.5" fill="none" stroke="#4ba3f5" stroke-width="0.7"/></svg>
<svg class="a" style="left:627.5px;top:126.5px" width="14" height="14" viewBox="0 0 14 14"><path d="M2 2l9.5 9.5" stroke="#fff" stroke-width="2.6" stroke-linecap="round"/><path d="M1.3 1.3l1.5 1.5" stroke="#888" stroke-width="2.6"/></svg>
<div class="a" style="left:749px;top:70.3px;font-size:5.7px;line-height:7px;color:#b2b5be">25000.00</div><!-- right sidebar icons -->
<svg class="a" style="left:782.5px;top:39.5px" width="13" height="13" viewBox="0 0 13 13"><rect x="1" y="1" width="11" height="11" rx="2" fill="none" stroke="#131722" stroke-width="0.8"/><path d="M3.5 4h6M3.5 6.5h6M3.5 9h6" stroke="#131722" stroke-width="0.8"/></svg>
<div class="a" style="left:797px;top:35px;width:2.5px;height:25px;border-radius:1.2px;background:#4caf50"></div>
<svg class="a" style="left:783px;top:62.5px" width="12" height="12" viewBox="0 0 12 12"><circle cx="6" cy="6.6" r="4.2" fill="none" stroke="#131722" stroke-width="0.8"/><path d="M6 4.3v2.5l1.5 1M1 2.6L2.8 1M11 2.6L9.2 1M3 11l1-1M9 11l-1-1" fill="none" stroke="#131722" stroke-width="0.8"/></svg>
<svg class="a" style="left:783px;top:86.5px" width="12" height="12" viewBox="0 0 12 12"><rect x="0.8" y="1" width="9" height="10" fill="none" stroke="#131722" stroke-width="0.8"/><path d="M9.8 4h1.4v7H1" fill="none" stroke="#131722" stroke-width="0.8"/><rect x="2.5" y="3" width="3" height="3" fill="none" stroke="#131722" stroke-width="0.7"/><path d="M6.5 3.5h2M6.5 5.5h2M2.5 8h6" stroke="#131722" stroke-width="0.7"/></svg>
<svg class="a" style="left:781px;top:109px" width="14" height="14" viewBox="0 0 14 14"><path d="M2.5 0.5v4M0.5 2.5h4" stroke="#4caf50" stroke-width="0.8"/><rect x="3" y="4" width="10" height="8.5" rx="1" fill="none" stroke="#131722" stroke-width="0.8"/><path d="M5 7h6M5 9.5h6" stroke="#131722" stroke-width="0.8"/></svg>
<svg class="a" style="left:783px;top:135px" width="12" height="12" viewBox="0 0 12 12"><path d="M6 1.5a4.5 4.5 0 1 1-4 2.5" fill="none" stroke="#131722" stroke-width="0.8"/><path d="M6 1.5v4.5l-3-3" fill="none" stroke="#131722" stroke-width="0.8"/></svg>
<svg class="a" style="left:783px;top:158px" width="12" height="12" viewBox="0 0 12 12"><rect x="1" y="1.5" width="10" height="9.5" rx="1.5" fill="none" stroke="#131722" stroke-width="0.8"/><g fill="#131722"><rect x="3" y="4" width="1.3" height="1.3"/><rect x="5.4" y="4" width="1.3" height="1.3"/><rect x="7.8" y="4" width="1.3" height="1.3"/><rect x="3" y="6.3" width="1.3" height="1.3"/><rect x="5.4" y="6.3" width="1.3" height="1.3"/><rect x="7.8" y="6.3" width="1.3" height="1.3"/><rect x="3" y="8.6" width="1.3" height="1.3"/><rect x="5.4" y="8.6" width="1.3" height="1.3"/></g></svg>
<svg class="a" style="left:784px;top:181px" width="10" height="13" viewBox="0 0 10 13"><path d="M3 9.5v-1.5a4 4 0 1 1 4 0v1.5z" fill="none" stroke="#131722" stroke-width="0.8"/><path d="M3.5 11h3M4 12.5h2M5 9.5V6.5l-1-1M5 6.5l1-1" fill="none" stroke="#131722" stroke-width="0.7"/></svg>
<div class="a" style="left:779px;top:205px;width:19px;height:0.6px;background:#eef0f4"></div>
<svg class="a" style="left:782.5px;top:213.5px" width="13" height="12" viewBox="0 0 13 12"><path d="M1 2.5h8v5H4.5L2 9.5V7.5H1z" fill="none" stroke="#131722" stroke-width="0.8"/><path d="M9 4.5h3v5h-1v2l-2.5-2H4.5V7.5" fill="none" stroke="#131722" stroke-width="0.8"/></svg>
<div class="a" style="left:791px;top:209.5px;width:7px;height:7px;border-radius:50%;background:#f0435b;color:#fff;font-size:5px;line-height:7px;text-align:center">3</div>
<svg class="a" style="left:782.5px;top:236.5px" width="13" height="12" viewBox="0 0 13 12"><path d="M1 2.5h8v5H4.5L2 9.5V7.5H1z" fill="none" stroke="#131722" stroke-width="0.8"/><path d="M9 4.5h3v5h-1v2l-2.5-2H4.5V7.5" fill="none" stroke="#131722" stroke-width="0.8"/></svg>
<svg class="a" style="left:782px;top:262px" width="13" height="11" viewBox="0 0 13 11"><path d="M1 2l5 7 5-7M3.5 2v4M8.5 2v4" fill="none" stroke="#131722" stroke-width="0.8"/></svg>
<div class="a" style="left:785.5px;top:260px;width:13px;height:7.5px;border-radius:3.7px;background:#f0435b;color:#fff;font-size:5px;line-height:7.5px;text-align:center">124</div>
<svg class="a" style="left:784px;top:283.5px" width="10" height="12" viewBox="0 0 10 12"><path d="M1 9h8l-1.2-1.5V5a2.8 2.8 0 0 0-5.6 0v2.5z" fill="none" stroke="#131722" stroke-width="0.8"/><path d="M4 10.5h2" stroke="#131722" stroke-width="0.8"/></svg>
<div class="a" style="left:779px;top:305px;width:19px;height:0.6px;background:#eef0f4"></div>
<svg class="a" style="left:782.5px;top:316px" width="13" height="10" viewBox="0 0 13 10"><path d="M0.8 7l3-4 3 3 3-4 2 2" fill="none" stroke="#131722" stroke-width="0.8"/><path d="M0.8 9.5l3-4 3 3 3-4 2 2" fill="none" stroke="#131722" stroke-width="0.8" opacity="0.6"/></svg>
<svg class="a" style="left:783px;top:339.5px" width="12" height="12" viewBox="0 0 12 12"><g fill="#131722"><circle cx="7" cy="1.5" r="0.9"/><circle cx="10" cy="1.5" r="0.9"/><circle cx="4" cy="4.5" r="0.9"/><circle cx="7" cy="4.5" r="0.9"/><circle cx="10" cy="4.5" r="0.9"/><circle cx="1.5" cy="7.5" r="0.9"/><circle cx="4" cy="7.5" r="0.9"/><circle cx="7" cy="7.5" r="0.9"/><circle cx="1.5" cy="10.5" r="0.9"/><circle cx="4" cy="10.5" r="0.9"/></g></svg>
<svg class="a" style="left:782px;top:439px" width="14" height="14" viewBox="0 0 14 14"><path d="M7 1l6 3.5-6 3.5-6-3.5z" fill="none" stroke="#131722" stroke-width="0.8"/><path d="M1 7.5l6 3.5 6-3.5M1 10l6 3.5 6-3.5" fill="none" stroke="#131722" stroke-width="0.8"/></svg>
<svg class="a" style="left:782.5px;top:462.5px" width="13" height="13" viewBox="0 0 13 13"><circle cx="6.5" cy="6.5" r="5.8" fill="none" stroke="#131722" stroke-width="0.8"/><path d="M4.7 5a1.9 1.9 0 1 1 2.6 1.6c-0.6 0.3-0.8 0.7-0.8 1.4" fill="none" stroke="#131722" stroke-width="0.8"/><circle cx="6.5" cy="9.6" r="0.6" fill="#131722"/></svg>
<!-- rec -->
<div class="a" style="left:725px;top:371.9px;width:70.5px;height:20.1px;border-radius:0 10px 10px 0;background:#1e2026"></div>
<div class="a" style="left:713.9px;top:366.2px;width:33.3px;height:33.3px;border-radius:50%;background:#4a4d5c"></div>
<div class="a" style="left:713.9px;top:378.5px;width:33.3px;text-align:center;font-size:7.2px;line-height:9px;color:#fff">00:00:10</div>
<div class="a" style="left:753.7px;top:379.6px;width:2.3px;height:7.1px;background:#fff"></div><div class="a" style="left:758.4px;top:379.6px;width:2.3px;height:7.1px;background:#fff"></div>
<div class="a" style="left:768px;top:380px;width:7px;height:7px;background:#fff"></div>
<svg class="a" style="left:781px;top:379px" width="9" height="9" viewBox="0 0 9 9"><path d="M1.2 7.8l0.4-1.6 5.3-5.3 1.2 1.2-5.3 5.3z" fill="#fff"/></svg><!-- taskbar content -->
<svg class="a" style="left:8px;top:486.5px" width="8" height="8" viewBox="0 0 8 8"><g fill="#fff"><rect x="0" y="0" width="3.6" height="3.6"/><rect x="4.3" y="0" width="3.7" height="3.6"/><rect x="0" y="4.3" width="3.6" height="3.7"/><rect x="4.3" y="4.3" width="3.7" height="3.7"/></g></svg>
<svg class="a" style="left:29.5px;top:486px" width="9" height="9" viewBox="0 0 9 9"><rect x="0.5" y="1.5" width="5" height="6" fill="none" stroke="#fff" stroke-width="0.8"/><path d="M7 0.5v8M8.5 1.5v6" stroke="#fff" stroke-width="0.8"/></svg>
<div class="a" style="left:45.6px;top:482.5px;width:131px;height:17.5px;background:#fff"></div>
<svg class="a" style="left:47.5px;top:485.5px" width="10" height="10" viewBox="0 0 10 10"><path d="M8.8 5.8H2.6a2.6 2.6 0 0 0 4.9 1.2h1.2A3.9 3.9 0 1 1 8.8 4.6z M2.7 4.5h4.6a2.3 2.3 0 0 0-4.6 0z" fill="#2a8ee8" fill-rule="evenodd"/><path d="M0.8 7.5C-0.5 3 6 -1 9.5 1" fill="none" stroke="#2a8ee8" stroke-width="0.8"/></svg>
<div class="a" style="left:58.5px;top:486px;font-size:6px;line-height:8px;color:#555">-</div>
<div class="a cjk" style="left:64.5px;top:486.5px;font-size:6px;line-height:8px;color:#333">校长前妻国师死亡</div>
<div class="a" style="left:176.5px;top:482.5px;width:27px;height:17.5px;background:#2a8be8"></div>
<div class="a cjk" style="left:177.5px;top:486.5px;font-size:6.3px;line-height:8px;color:#fff">搜索一下</div>
<!-- apps -->
<div class="a" style="left:212px;top:485.5px;width:10.5px;height:10.5px;border-radius:50%;background:#8cc63f"></div>
<svg class="a" style="left:213.5px;top:487px" width="8" height="8" viewBox="0 0 8 8"><path d="M1.8 3.5a2.3 2.3 0 0 0 4.4 0" fill="none" stroke="#eaf7d6" stroke-width="1.1"/></svg>
<div class="a" style="left:235px;top:486.5px;width:11px;height:8.5px;background:#f0c24b;border-top:1.5px solid #d9a431"></div>
<div class="a" style="left:236.5px;top:490.5px;width:8px;height:2.5px;background:#c99a3a"></div>
<svg class="a" style="left:258px;top:484.5px" width="10" height="11" viewBox="0 0 10 11"><path d="M8.8 6.2H2.2a3 3 0 0 0 5.6 1.5l1 1.6A4.6 4.6 0 1 1 9 5.4z M2.3 4.6h4.5a2.3 2.3 0 0 0-4.5 0z" fill="#1f74d6" fill-rule="evenodd"/></svg>
<div class="a" style="left:281px;top:484px;width:12px;height:13px;border-radius:2px;background:#f4f7fb"></div>
<div class="a" style="left:283px;top:486.5px;width:8px;height:8px;border-radius:50%;background:#2c66d2"></div>
<svg class="a" style="left:283px;top:486.5px" width="8" height="8" viewBox="0 0 8 8"><path d="M2 6.5L6.5 1.5" stroke="#fff" stroke-width="1.1"/></svg>
<div class="a" style="left:305px;top:484.7px;width:11px;height:11px;border-radius:50%;background:conic-gradient(from -30deg,#db4437 0 120deg,#f4c20d 120deg 240deg,#0f9d58 240deg 360deg)"></div>
<div class="a" style="left:307.8px;top:487.5px;width:5.4px;height:5.4px;border-radius:50%;background:#4285f4;border:0.8px solid #fff"></div>
<svg class="a" style="left:327px;top:485px" width="9" height="10" viewBox="0 0 9 10"><g fill="#3d4a48"><rect x="0.5" y="0.5" width="2.5" height="2.5"/><rect x="5" y="0.5" width="2.5" height="2.5"/><rect x="0.5" y="4" width="2.5" height="2.5"/><rect x="5" y="4" width="2.5" height="2.5"/><rect x="0.5" y="7.5" width="2.5" height="2"/><rect x="5" y="7.5" width="2.5" height="2"/></g></svg>
<div class="a" style="left:351px;top:485px;width:12px;height:11px;background:#1f7246;border-radius:1px"></div>
<div class="a" style="left:352.5px;top:485.7px;font-size:7px;line-height:9px;color:#fff;font-weight:bold">x</div>
<div class="a" style="left:357.5px;top:487px;width:4px;height:7px;border-top:1px solid #cfe8da;border-bottom:1px solid #cfe8da;background:linear-gradient(#cfe8da,#cfe8da) 0 50%/100% 1px no-repeat"></div>
<div class="a" style="left:207px;top:499px;width:19px;height:1px;background:#8aa3b8"></div>
<div class="a" style="left:231px;top:499px;width:19px;height:1px;background:#8aa3b8"></div>
<div class="a" style="left:255px;top:499px;width:16px;height:1px;background:#8aa3b8"></div>
<div class="a" style="left:278px;top:499px;width:19px;height:1px;background:#8aa3b8"></div>
<div class="a" style="left:301px;top:499px;width:19px;height:1px;background:#8aa3b8"></div>
<div class="a" style="left:348px;top:499px;width:17px;height:1px;background:#8aa3b8"></div>
<!-- tray -->
<svg class="a" style="left:604px;top:487px" width="8" height="6" viewBox="0 0 8 6"><path d="M1 5l3-3.5L7 5" fill="none" stroke="#fff" stroke-width="0.9"/></svg>
<div class="a" style="left:617px;top:485px;width:2.5px;height:8px;border-radius:1px;background:#dfe3e8"></div>
<div class="a" style="left:615.5px;top:492px;width:5.5px;height:3px;border-radius:1.5px;background:#dfe3e8"></div>
<div class="a" style="left:625.5px;top:485px;width:7.5px;height:9px;border-radius:3.5px 3.5px 2px 2px;background:#222"></div>
<div class="a" style="left:626.5px;top:489.5px;width:5.5px;height:3.5px;border-radius:1px;background:#fff"></div>
<div class="a" style="left:625px;top:490.5px;width:8.5px;height:1.4px;background:#e53935"></div>
<div class="a" style="left:637px;top:487px;width:9px;height:6px;border:0.8px solid #e8edf2;background:#7f9fb5"></div>
<div class="a" style="left:648.5px;top:485.5px;width:9px;height:9px;border-radius:50%;background:#c4d92e"></div>
<div class="a" style="left:651px;top:488px;width:4px;height:4px;border-radius:50%;background:#3f7d2a"></div>
<div class="a" style="left:659.5px;top:485.5px;width:9px;height:9px;border-radius:50%;background:#33b25f"></div>
<div class="a" style="left:661.5px;top:487.5px;width:5px;height:5px;border-radius:50%;border:1px solid #d8f5e2"></div>
<svg class="a" style="left:671.5px;top:486px" width="9" height="8" viewBox="0 0 9 8"><path d="M0.5 7.5h8V0.5z" fill="none" stroke="#a9b4bd" stroke-width="0.8"/><path d="M3 7.5v-2M5 7.5v-3.5" stroke="#a9b4bd" stroke-width="0.8"/></svg>
<svg class="a" style="left:682px;top:486px" width="9" height="8" viewBox="0 0 9 8"><path d="M0.8 2.8h1.8L5 0.8v6.4L2.6 5.2H0.8z" fill="none" stroke="#fff" stroke-width="0.7"/><path d="M6.3 2.6a2 2 0 0 1 0 2.8" fill="none" stroke="#fff" stroke-width="0.7"/></svg>
<div class="a cjk" style="left:695px;top:484.5px;font-size:7.5px;line-height:10px;color:#fff">中</div>
<div class="a" style="left:707px;top:485px;width:10px;height:10px;border-radius:2.5px;background:#e8452c;color:#fff;font-weight:bold;font-size:8px;line-height:10px;text-align:center;font-style:italic">S</div>
<div class="a cjk" style="left:726px;top:481.5px;font-size:6.3px;line-height:8px;color:#fff">7:08 周一</div>
<div class="a" style="left:722px;top:491px;font-size:6.3px;line-height:8px;color:#fff">2020/12/21</div>
<div class="a" style="left:761.5px;top:484.5px;width:8px;height:10px;background:#f2f2f2;border-radius:0.5px"></div>
<div class="a" style="left:765px;top:490px;width:6.5px;height:6.5px;background:#e53935;border-radius:1px;color:#fff;font-size:4px;line-height:6.5px;text-align:center">30</div>
<svg class="a" style="left:781px;top:484px" width="12" height="11" viewBox="0 0 12 11"><path d="M0.8 0.8h10v7H4l-2.5 2.2V7.8H0.8z" fill="none" stroke="#fff" stroke-width="0.8"/><path d="M3 3h6M3 5h5" stroke="#fff" stroke-width="0.6"/></svg>
<div class="a" style="left:785.5px;top:489px;width:9.5px;height:7.5px;background:#21303e;color:#fff;font-size:6px;line-height:7.5px;text-align:center">20</div>
<!-- watermark -->
<div class="a cjk" style="left:673.5px;top:28px;font-size:25.5px;line-height:30px;font-weight:bold;color:rgba(255,255,255,0.82);letter-spacing:0">全民视频</div>
<div class="a cjk" style="left:611px;top:62.3px;font-size:14px;line-height:16px;font-weight:bold;color:#fff">@交易计划计划交易<span style="margin:0 2.6px 0 1.6px">-</span>丁一</div>
<svg class="a" style="left:628px;top:25px" width="38" height="34" viewBox="628 25 38 34">
<path d="M636 49 L630.5 56.5 L640 53.5 Z" fill="#fbfbfe"/>
<circle cx="648.2" cy="42" r="15" fill="#fdfdff"/>
<path d="M655 29.5 A15 15 0 0 1 652 56.5 A13 13 0 0 0 655 29.5z" fill="#e6e6f2"/>
<path d="M631 46.5 L642 41.5 L642.5 44.5 Z" fill="#f26478"/>
<path d="M642 33.2 L656.3 40.4 L642 48.4 Z" fill="#f2404e"/>
</svg>

</body></html>
